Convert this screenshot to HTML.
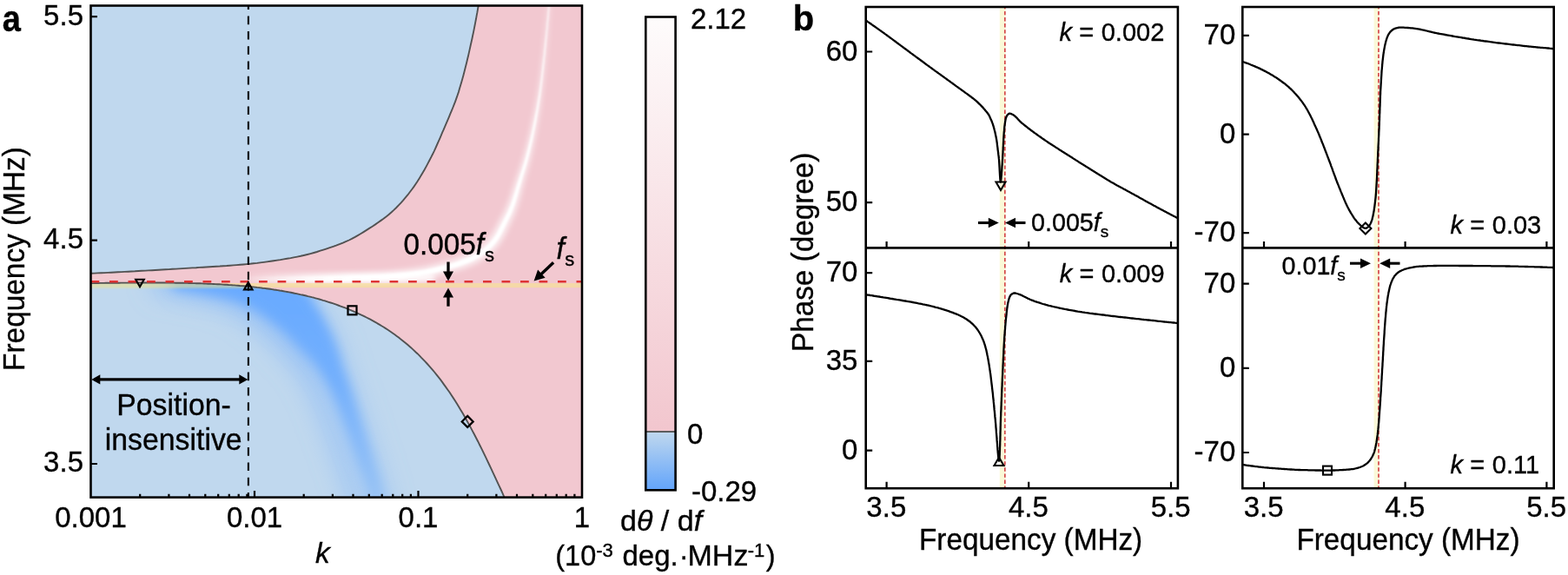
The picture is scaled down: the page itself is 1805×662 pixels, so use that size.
<!DOCTYPE html>
<html lang="en"><head><meta charset="utf-8"><title>Figure</title>
<style>html,body{margin:0;padding:0;background:#fff;}svg{display:block;}</style></head>
<body>
<svg width="1805" height="662" viewBox="0 0 1805 662" font-family='"Liberation Sans", Arial, Helvetica, sans-serif' fill="#000" stroke="#000" stroke-width="0.35">
<defs>
<clipPath id="cpA"><rect x="104.5" y="6.5" width="565.5" height="566.1"/></clipPath>
<clipPath id="cpLow"><path d="M104.5,326.1L106.7,326.1L108.8,326.0L111.0,326.0L113.2,326.0L115.4,325.9L117.5,325.9L119.7,325.9L121.9,325.8L124.1,325.8L126.2,325.8L128.4,325.8L130.6,325.7L132.8,325.7L134.9,325.7L137.1,325.7L139.3,325.6L141.5,325.6L143.6,325.6L145.8,325.6L148.0,325.6L150.2,325.6L152.3,325.5L154.5,325.5L156.7,325.5L158.8,325.5L161.0,325.5L163.2,325.5L165.4,325.5L167.5,325.5L169.7,325.5L171.9,325.5L174.1,325.5L176.2,325.5L178.4,325.5L180.6,325.5L182.8,325.5L184.9,325.5L187.1,325.5L189.3,325.5L191.5,325.6L193.6,325.6L195.8,325.6L198.0,325.6L200.2,325.6L202.3,325.7L204.5,325.7L206.7,325.7L208.9,325.8L211.0,325.8L213.2,325.9L215.4,325.9L217.5,326.0L219.7,326.0L221.9,326.1L224.1,326.1L226.2,326.2L228.4,326.3L230.6,326.3L232.8,326.4L234.9,326.5L237.1,326.6L239.3,326.7L241.5,326.8L243.6,326.9L245.8,327.0L248.0,327.1L250.2,327.2L252.3,327.3L254.5,327.4L256.7,327.6L258.9,327.7L261.0,327.8L263.2,328.0L265.4,328.1L267.5,328.3L269.7,328.4L271.9,328.6L274.1,328.8L276.2,329.0L278.4,329.1L280.6,329.3L282.8,329.5L284.9,329.7L287.1,330.0L289.3,330.2L291.5,330.4L293.6,330.6L295.8,330.9L298.0,331.1L300.2,331.4L302.3,331.7L304.5,331.9L306.7,332.2L308.9,332.5L311.0,332.8L313.2,333.1L315.4,333.5L317.5,333.8L319.7,334.1L321.9,334.5L324.1,334.8L326.2,335.2L328.4,335.6L330.6,336.0L332.8,336.4L334.9,336.8L337.1,337.2L339.3,337.7L341.5,338.1L343.6,338.6L345.8,339.1L348.0,339.5L350.2,340.0L352.3,340.5L354.5,341.1L356.7,341.6L358.9,342.2L361.0,342.7L363.2,343.3L365.4,343.9L367.6,344.5L369.7,345.1L371.9,345.8L374.1,346.4L376.2,347.1L378.4,347.8L380.6,348.5L382.8,349.2L384.9,349.9L387.1,350.7L389.3,351.5L391.5,352.3L393.6,353.1L395.8,353.9L398.0,354.7L400.2,355.6L402.3,356.5L404.5,357.4L406.7,358.3L408.9,359.3L411.0,360.3L413.2,361.3L415.4,362.3L417.6,363.3L419.7,364.4L421.9,365.5L424.1,366.6L426.2,367.7L428.4,368.9L430.6,370.1L432.8,371.3L434.9,372.6L437.1,373.9L439.3,375.2L441.5,376.5L443.6,377.9L445.8,379.3L448.0,380.8L450.2,382.3L452.3,383.8L454.5,385.3L456.7,386.9L458.9,388.5L461.0,390.2L463.2,391.9L465.4,393.7L467.6,395.5L469.7,397.3L471.9,399.2L474.1,401.1L476.2,403.1L478.4,405.2L480.6,407.2L482.8,409.4L484.9,411.6L487.1,413.8L489.3,416.1L491.5,418.5L493.6,420.9L495.8,423.4L498.0,425.9L500.2,428.5L502.3,431.2L504.5,433.9L506.7,436.7L508.9,439.6L511.0,442.6L513.2,445.6L515.4,448.7L517.6,451.8L519.7,455.1L521.9,458.4L524.1,461.8L526.3,465.2L528.4,468.8L530.6,472.4L532.8,476.1L534.9,479.8L537.1,483.7L539.3,487.6L541.5,491.6L543.6,495.6L545.8,499.8L548.0,504.0L550.2,508.2L552.3,512.5L554.5,516.9L556.7,521.4L558.9,525.9L561.0,530.4L563.2,535.0L565.4,539.6L567.6,544.3L569.7,548.9L571.9,553.6L574.1,558.3L576.3,563.0L578.4,567.7L580.6,572.6L104.5,572.6Z"/></clipPath>
<clipPath id="cpPink"><path d="M104.5,314.8L108.6,314.6L112.3,314.4L116.4,314.2L120.0,314.1L124.2,313.9L127.8,313.7L132.0,313.5L135.6,313.3L139.7,313.1L143.4,312.9L147.5,312.7L151.1,312.5L155.3,312.3L159.4,312.0L163.0,311.8L167.2,311.6L170.8,311.4L174.9,311.2L178.6,311.0L182.7,310.7L186.3,310.5L190.5,310.3L194.1,310.1L198.2,309.8L202.4,309.6L206.0,309.4L210.2,309.1L213.8,308.9L217.9,308.6L221.5,308.4L225.7,308.2L229.3,307.9L233.5,307.7L237.1,307.5L241.2,307.2L244.9,307.0L249.0,306.7L253.1,306.5L256.8,306.2L260.9,306.0L264.5,305.7L268.7,305.4L272.3,305.1L276.4,304.8L280.0,304.5L284.2,304.1L287.8,303.8L291.9,303.3L296.0,302.9L299.6,302.4L303.7,301.9L307.3,301.4L311.4,300.8L315.0,300.2L319.1,299.6L322.7,299.1L326.8,298.4L330.4,297.8L334.5,297.1L338.1,296.4L342.2,295.6L346.2,294.8L349.7,294.0L353.8,293.0L357.3,292.1L361.3,291.0L364.8,290.0L368.7,288.7L372.2,287.6L376.1,286.3L379.6,285.1L383.5,283.8L386.9,282.6L390.8,281.1L394.7,279.6L398.0,278.2L401.8,276.5L405.0,274.9L408.7,272.9L411.8,271.1L415.4,269.0L418.5,267.1L422.0,264.9L425.1,262.9L428.6,260.7L432.1,258.4L435.1,256.3L438.5,253.9L441.5,251.8L444.8,249.3L447.6,247.0L450.7,244.3L453.3,241.9L456.3,239.0L458.8,236.4L461.7,233.3L464.1,230.6L466.8,227.4L469.5,224.2L471.7,221.3L474.2,218.0L476.3,215.1L478.6,211.7L480.6,208.7L482.8,205.2L484.7,202.1L486.8,198.5L488.7,195.3L490.7,191.6L492.4,188.4L494.3,184.8L496.2,181.1L497.9,177.8L499.7,174.1L501.2,170.8L502.9,167.0L504.4,163.7L506.1,159.9L507.5,156.6L509.1,152.7L510.6,149.4L512.2,145.6L513.8,141.8L515.3,138.4L516.9,134.6L518.3,131.2L519.9,127.4L521.3,124.0L522.8,120.2L524.1,116.8L525.5,112.9L526.7,109.5L528.0,105.6L529.0,102.1L530.2,98.1L531.4,94.1L532.4,90.6L533.5,86.6L534.4,83.1L535.4,79.1L536.3,75.6L537.3,71.5L538.1,68.0L539.1,63.9L539.9,60.4L540.8,56.4L541.7,52.3L542.5,48.8L543.4,44.7L544.1,41.2L545.0,37.1L545.7,33.6L546.5,29.5L547.2,25.9L548.0,21.8L548.6,18.3L549.4,14.2L550.0,10.6L550.7,6.5L670.0,6.5L670.0,572.6L580.6,572.6L580.6,572.6L578.4,567.7L576.3,563.0L574.1,558.3L571.9,553.6L569.7,548.9L567.6,544.3L565.4,539.6L563.2,535.0L561.0,530.4L558.9,525.9L556.7,521.4L554.5,516.9L552.3,512.5L550.2,508.2L548.0,504.0L545.8,499.8L543.6,495.6L541.5,491.6L539.3,487.6L537.1,483.7L534.9,479.8L532.8,476.1L530.6,472.4L528.4,468.8L526.3,465.2L524.1,461.8L521.9,458.4L519.7,455.1L517.6,451.8L515.4,448.7L513.2,445.6L511.0,442.6L508.9,439.6L506.7,436.7L504.5,433.9L502.3,431.2L500.2,428.5L498.0,425.9L495.8,423.4L493.6,420.9L491.5,418.5L489.3,416.1L487.1,413.8L484.9,411.6L482.8,409.4L480.6,407.2L478.4,405.2L476.2,403.1L474.1,401.1L471.9,399.2L469.7,397.3L467.6,395.5L465.4,393.7L463.2,391.9L461.0,390.2L458.9,388.5L456.7,386.9L454.5,385.3L452.3,383.8L450.2,382.3L448.0,380.8L445.8,379.3L443.6,377.9L441.5,376.5L439.3,375.2L437.1,373.9L434.9,372.6L432.8,371.3L430.6,370.1L428.4,368.9L426.2,367.7L424.1,366.6L421.9,365.5L419.7,364.4L417.6,363.3L415.4,362.3L413.2,361.3L411.0,360.3L408.9,359.3L406.7,358.3L404.5,357.4L402.3,356.5L400.2,355.6L398.0,354.7L395.8,353.9L393.6,353.1L391.5,352.3L389.3,351.5L387.1,350.7L384.9,349.9L382.8,349.2L380.6,348.5L378.4,347.8L376.2,347.1L374.1,346.4L371.9,345.8L369.7,345.1L367.6,344.5L365.4,343.9L363.2,343.3L361.0,342.7L358.9,342.2L356.7,341.6L354.5,341.1L352.3,340.5L350.2,340.0L348.0,339.5L345.8,339.1L343.6,338.6L341.5,338.1L339.3,337.7L337.1,337.2L334.9,336.8L332.8,336.4L330.6,336.0L328.4,335.6L326.2,335.2L324.1,334.8L321.9,334.5L319.7,334.1L317.5,333.8L315.4,333.5L313.2,333.1L311.0,332.8L308.9,332.5L306.7,332.2L304.5,331.9L302.3,331.7L300.2,331.4L298.0,331.1L295.8,330.9L293.6,330.6L291.5,330.4L289.3,330.2L287.1,330.0L284.9,329.7L282.8,329.5L280.6,329.3L278.4,329.1L276.2,329.0L274.1,328.8L271.9,328.6L269.7,328.4L267.5,328.3L265.4,328.1L263.2,328.0L261.0,327.8L258.9,327.7L256.7,327.6L254.5,327.4L252.3,327.3L250.2,327.2L248.0,327.1L245.8,327.0L243.6,326.9L241.5,326.8L239.3,326.7L237.1,326.6L234.9,326.5L232.8,326.4L230.6,326.3L228.4,326.3L226.2,326.2L224.1,326.1L221.9,326.1L219.7,326.0L217.5,326.0L215.4,325.9L213.2,325.9L211.0,325.8L208.9,325.8L206.7,325.7L204.5,325.7L202.3,325.7L200.2,325.6L198.0,325.6L195.8,325.6L193.6,325.6L191.5,325.6L189.3,325.5L187.1,325.5L184.9,325.5L182.8,325.5L180.6,325.5L178.4,325.5L176.2,325.5L174.1,325.5L171.9,325.5L169.7,325.5L167.5,325.5L165.4,325.5L163.2,325.5L161.0,325.5L158.8,325.5L156.7,325.5L154.5,325.5L152.3,325.5L150.2,325.6L148.0,325.6L145.8,325.6L143.6,325.6L141.5,325.6L139.3,325.6L137.1,325.7L134.9,325.7L132.8,325.7L130.6,325.7L128.4,325.8L126.2,325.8L124.1,325.8L121.9,325.8L119.7,325.9L117.5,325.9L115.4,325.9L113.2,326.0L111.0,326.0L108.8,326.0L106.7,326.1L104.5,326.1Z"/></clipPath>
<filter id="b1" filterUnits="userSpaceOnUse" x="0" y="-100" width="800" height="900"><feGaussianBlur stdDeviation="0.8"/></filter>
<filter id="b3" filterUnits="userSpaceOnUse" x="0" y="-100" width="800" height="900"><feGaussianBlur stdDeviation="3"/></filter>
<filter id="b6" filterUnits="userSpaceOnUse" x="0" y="-100" width="800" height="900"><feGaussianBlur stdDeviation="6.5"/></filter>
<filter id="b14" filterUnits="userSpaceOnUse" x="0" y="-100" width="800" height="900"><feGaussianBlur stdDeviation="14"/></filter>
<linearGradient id="wfade" gradientUnits="userSpaceOnUse" x1="275" y1="0" x2="400" y2="0"><stop offset="0" stop-color="#fff" stop-opacity="0"/><stop offset="1" stop-color="#fff" stop-opacity="1"/></linearGradient>
<linearGradient id="cbTop" x1="0" y1="0" x2="0" y2="1"><stop offset="0" stop-color="#fefcfc"/><stop offset="1" stop-color="#f2c6ce"/></linearGradient>
<linearGradient id="cbBot" x1="0" y1="0" x2="0" y2="1"><stop offset="0" stop-color="#c0d8ee"/><stop offset="1" stop-color="#62a4fb"/></linearGradient>
<linearGradient id="bandFade" gradientUnits="userSpaceOnUse" x1="0" y1="330" x2="0" y2="572"><stop offset="0" stop-color="#69aaff"/><stop offset="0.45" stop-color="#72affd"/><stop offset="1" stop-color="#96c2f5"/></linearGradient>
</defs>
<rect width="1805" height="662" fill="#fff" stroke="none"/>
<g clip-path="url(#cpA)" stroke="none">
<rect x="104.5" y="6.5" width="565.5" height="566.1" fill="#f2c8d0"/>
<g clip-path="url(#cpPink)" fill="none" stroke="#fff">
<path d="M286.0,327.6L289.8,327.6L293.2,327.6L297.0,327.6L300.4,327.6L304.2,327.6L307.5,327.6L311.4,327.6L314.7,327.6L318.6,327.6L321.9,327.6L325.7,327.5L329.1,327.5L332.9,327.5L336.8,327.5L340.1,327.5L343.9,327.4L347.3,327.4L351.1,327.4L354.5,327.4L358.3,327.3L361.6,327.3L365.5,327.3L368.8,327.3L372.6,327.2L376.5,327.2L379.8,327.2L383.7,327.1L387.0,327.1L390.9,327.0L394.3,326.9L398.1,326.8L401.5,326.8L405.3,326.6L408.7,326.5L412.5,326.4L415.9,326.3L419.7,326.1L423.6,326.0L426.9,325.9L430.8,325.7L434.1,325.5L437.9,325.3L441.3,325.2L445.2,324.9L448.6,324.7L452.5,324.4L455.9,324.1L459.7,323.8L463.6,323.4L467.0,323.0L470.8,322.6L474.2,322.2L478.0,321.7L481.4,321.2L485.3,320.7L488.7,320.1L492.5,319.4L495.9,318.8L499.8,318.0L503.1,317.2L506.9,316.4L510.7,315.4L514.0,314.6L517.8,313.6L521.1,312.8L524.9,311.7L528.2,310.7L532.0,309.5L535.4,308.4L539.1,307.0L542.4,305.7L546.1,304.1L549.3,302.5L553.0,300.5L556.5,298.2L559.6,296.0L562.8,293.4L565.6,291.0L568.6,288.1L571.2,285.4L573.9,282.2L576.1,279.1L578.3,275.6L580.1,272.4L582.0,268.9L583.7,265.3L585.1,262.3L586.7,258.8L588.2,255.8L589.8,252.3L591.3,249.1L592.8,245.4L594.1,242.1L595.3,238.3L596.4,235.0L597.5,231.3L598.4,227.9L599.3,224.2L600.3,220.5L601.1,217.2L602.1,213.5L602.9,210.3L603.9,206.7L604.8,203.4L605.9,199.8L606.8,196.5L607.9,192.8L608.8,189.5L609.7,185.8L610.6,182.5L611.4,178.7L612.3,175.0L613.0,171.7L613.8,167.9L614.5,164.6L615.3,160.8L615.9,157.5L616.6,153.7L617.2,150.4L617.9,146.6L618.4,143.3L619.1,139.5L619.7,135.7L620.2,132.4L620.8,128.6L621.3,125.3L621.9,121.5L622.3,118.2L622.8,114.3L623.2,111.0L623.7,107.2L624.1,103.9L624.5,100.0L624.9,96.7L625.3,92.9L625.7,89.1L626.1,85.7L626.5,81.9L626.8,78.6L627.2,74.8L627.5,71.4L627.9,67.6L628.2,64.3L628.5,60.5L628.8,57.1L629.2,53.3L629.5,49.5L629.8,46.2L630.2,42.4L630.5,39.0L630.8,35.2L631.1,31.9L631.4,28.1L631.6,24.7L631.9,20.9L632.2,17.6L632.5,13.7L632.7,10.4L633.0,6.6L631.0,6.4L630.6,10.2L630.3,13.6L630.0,17.4L629.6,20.7L629.3,24.5L628.9,27.8L628.5,31.6L628.2,35.0L627.8,38.8L627.4,42.1L627.0,45.9L626.6,49.2L626.2,53.0L625.8,56.8L625.4,60.2L625.0,64.0L624.6,67.3L624.1,71.1L623.7,74.4L623.3,78.2L622.9,81.5L622.4,85.3L622.0,88.6L621.5,92.4L621.0,96.2L620.5,99.5L619.9,103.3L619.4,106.6L618.8,110.4L618.2,113.6L617.5,117.4L616.9,120.7L616.2,124.4L615.5,127.7L614.7,131.4L614.0,134.7L613.2,138.4L612.4,142.1L611.7,145.4L610.9,149.1L610.1,152.4L609.2,156.1L608.4,159.3L607.5,163.0L606.7,166.2L605.7,169.9L604.8,173.1L603.8,176.8L602.8,180.4L601.8,183.6L600.7,187.2L599.7,190.3L598.5,193.9L597.4,197.1L596.1,200.7L595.0,203.9L593.8,207.5L592.7,210.7L591.5,214.4L590.4,217.6L589.2,221.3L588.0,224.9L587.0,228.0L585.7,231.5L584.6,234.5L583.2,237.8L581.9,240.7L580.3,244.0L578.8,246.8L577.0,250.1L575.4,253.1L573.5,256.5L572.0,259.5L570.3,262.9L568.5,266.1L567.0,268.6L565.1,271.5L563.4,273.8L561.1,276.4L559.0,278.5L556.4,280.9L554.2,282.8L551.4,285.0L548.9,286.7L545.9,288.5L542.9,290.1L540.2,291.4L537.0,292.8L534.1,294.0L530.6,295.4L527.6,296.5L524.1,297.7L521.0,298.7L517.4,299.8L514.2,300.7L510.6,301.7L507.4,302.6L503.8,303.5L500.1,304.4L496.9,305.2L493.3,306.0L490.1,306.7L486.4,307.4L483.2,308.0L479.5,308.6L476.3,309.0L472.6,309.6L469.3,310.0L465.5,310.4L462.2,310.8L458.5,311.2L454.7,311.6L451.4,311.9L447.7,312.2L444.4,312.5L440.6,312.7L437.3,312.9L433.5,313.1L430.2,313.3L426.4,313.4L423.0,313.6L419.2,313.8L415.4,313.9L412.1,314.0L408.3,314.2L404.9,314.3L401.1,314.4L397.8,314.5L394.0,314.6L390.6,314.7L386.8,314.7L383.5,314.8L379.7,314.8L376.4,314.9L372.5,314.9L368.7,314.9L365.4,315.0L361.5,315.0L358.2,315.0L354.4,315.1L351.0,315.1L347.2,315.1L343.8,315.1L340.0,315.2L336.7,315.2L332.9,315.2L329.0,315.2L325.7,315.3L321.9,315.3L318.5,315.3L314.7,315.3L311.3,315.3L307.5,315.3L304.2,315.3L300.3,315.3L297.0,315.4L293.2,315.4L289.8,315.4L286.0,315.4Z" fill="url(#wfade)" stroke="none" fill-opacity="0.7" filter="url(#b3)"/>
<path d="M270,320.5 L500,319.5" stroke="url(#wfade)" stroke-width="8" stroke-opacity="0.9" filter="url(#b3)"/>
<path d="M286.0,324.4L289.8,324.4L293.2,324.4L297.0,324.4L300.4,324.4L304.2,324.4L307.5,324.4L311.4,324.4L314.7,324.3L318.5,324.3L321.9,324.3L325.7,324.3L329.1,324.3L332.9,324.3L336.7,324.2L340.1,324.2L343.9,324.2L347.3,324.2L351.1,324.1L354.4,324.1L358.3,324.1L361.6,324.1L365.4,324.0L368.8,324.0L372.6,324.0L376.4,323.9L379.8,323.9L383.6,323.9L387.0,323.8L390.8,323.7L394.2,323.7L398.0,323.6L401.4,323.5L405.2,323.4L408.6,323.3L412.4,323.1L415.8,323.0L419.6,322.8L423.4,322.7L426.8,322.5L430.6,322.4L433.9,322.2L437.8,322.0L441.1,321.8L445.0,321.6L448.3,321.4L452.2,321.1L455.5,320.8L459.4,320.4L463.2,320.0L466.6,319.6L470.4,319.2L473.7,318.7L477.5,318.2L480.9,317.8L484.7,317.2L488.0,316.6L491.9,315.9L495.2,315.2L499.0,314.4L502.3,313.7L506.0,312.8L509.8,311.8L513.0,311.0L516.8,310.0L520.0,309.1L523.8,308.0L527.0,306.9L530.8,305.7L534.0,304.6L537.7,303.2L540.8,301.9L544.4,300.4L547.5,298.8L550.9,296.9L554.3,294.8L557.1,292.7L560.2,290.3L562.9,288.0L565.7,285.3L568.1,282.7L570.7,279.6L572.8,276.8L574.9,273.5L576.6,270.5L578.4,267.0L580.1,263.5L581.6,260.5L583.2,257.1L584.7,254.0L586.4,250.6L587.9,247.5L589.4,243.9L590.7,240.8L592.0,237.1L593.1,233.9L594.2,230.2L595.2,227.0L596.2,223.3L597.2,219.6L598.1,216.3L599.2,212.7L600.1,209.5L601.2,205.8L602.1,202.6L603.2,198.9L604.2,195.7L605.3,192.0L606.3,188.8L607.3,185.1L608.2,181.8L609.1,178.1L610.0,174.4L610.8,171.1L611.6,167.4L612.4,164.1L613.2,160.4L613.9,157.1L614.6,153.3L615.3,150.0L616.0,146.3L616.7,143.0L617.4,139.2L618.0,135.4L618.6,132.1L619.3,128.3L619.8,125.0L620.4,121.2L620.9,117.9L621.5,114.1L622.0,110.8L622.5,107.0L622.9,103.7L623.4,99.9L623.8,96.6L624.3,92.8L624.7,89.0L625.1,85.6L625.5,81.8L625.9,78.5L626.3,74.7L626.6,71.4L627.0,67.5L627.4,64.2L627.8,60.4L628.1,57.1L628.5,53.3L628.8,49.5L629.2,46.1L629.5,42.3L629.8,39.0L630.2,35.2L630.5,31.8L630.8,28.0L631.1,24.7L631.5,20.9L631.8,17.5L632.1,13.7L632.3,10.4L632.6,6.6L631.4,6.4L631.0,10.3L630.7,13.6L630.4,17.4L630.1,20.7L629.7,24.6L629.4,27.9L629.1,31.7L628.8,35.0L628.4,38.8L628.0,42.2L627.7,46.0L627.3,49.3L626.9,53.1L626.5,56.9L626.2,60.2L625.8,64.0L625.4,67.4L625.0,71.2L624.6,74.5L624.2,78.3L623.8,81.6L623.4,85.4L623.0,88.8L622.5,92.6L622.0,96.4L621.6,99.7L621.1,103.5L620.6,106.8L620.0,110.5L619.5,113.8L618.9,117.6L618.3,120.9L617.7,124.7L617.1,128.0L616.3,131.7L615.7,135.0L615.0,138.7L614.2,142.5L613.5,145.8L612.8,149.5L612.1,152.8L611.2,156.5L610.5,159.8L609.6,163.5L608.8,166.7L607.9,170.4L607.1,173.7L606.1,177.4L605.2,181.0L604.3,184.2L603.2,187.9L602.2,191.1L601.1,194.7L600.0,197.9L598.8,201.6L597.8,204.7L596.6,208.4L595.6,211.6L594.5,215.3L593.5,218.5L592.4,222.2L591.2,225.8L590.2,229.0L589.0,232.6L587.9,235.7L586.5,239.1L585.3,242.1L583.7,245.5L582.2,248.5L580.4,251.9L578.9,254.9L577.1,258.3L575.6,261.3L573.8,264.7L572.1,268.0L570.4,270.8L568.4,273.8L566.5,276.3L564.1,279.1L561.9,281.4L559.2,283.9L556.7,286.0L553.8,288.2L551.1,290.1L548.0,292.0L544.8,293.8L542.0,295.1L538.6,296.6L535.6,297.8L532.0,299.1L528.9,300.2L525.3,301.4L522.1,302.4L518.4,303.5L515.2,304.4L511.5,305.4L508.3,306.2L504.7,307.1L501.0,308.0L497.7,308.8L494.0,309.6L490.8,310.2L487.0,310.9L483.8,311.5L480.0,312.0L476.8,312.5L473.0,313.0L469.7,313.4L465.9,313.9L462.6,314.2L458.8,314.6L455.0,315.0L451.7,315.3L447.9,315.6L444.6,315.8L440.8,316.0L437.5,316.2L433.7,316.4L430.3,316.6L426.5,316.7L423.2,316.9L419.3,317.1L415.5,317.2L412.2,317.3L408.4,317.5L405.0,317.6L401.2,317.7L397.9,317.8L394.0,317.9L390.7,317.9L386.9,318.0L383.6,318.1L379.7,318.1L376.4,318.1L372.6,318.2L368.7,318.2L365.4,318.2L361.6,318.3L358.2,318.3L354.4,318.3L351.0,318.3L347.2,318.4L343.9,318.4L340.0,318.4L336.7,318.4L332.9,318.5L329.0,318.5L325.7,318.5L321.9,318.5L318.5,318.5L314.7,318.5L311.4,318.6L307.5,318.6L304.2,318.6L300.3,318.6L297.0,318.6L293.2,318.6L289.8,318.6L286.0,318.6Z" fill="url(#wfade)" stroke="none" filter="url(#b1)"/>
</g>
<path d="M104.5,314.8L108.6,314.6L112.3,314.4L116.4,314.2L120.0,314.1L124.2,313.9L127.8,313.7L132.0,313.5L135.6,313.3L139.7,313.1L143.4,312.9L147.5,312.7L151.1,312.5L155.3,312.3L159.4,312.0L163.0,311.8L167.2,311.6L170.8,311.4L174.9,311.2L178.6,311.0L182.7,310.7L186.3,310.5L190.5,310.3L194.1,310.1L198.2,309.8L202.4,309.6L206.0,309.4L210.2,309.1L213.8,308.9L217.9,308.6L221.5,308.4L225.7,308.2L229.3,307.9L233.5,307.7L237.1,307.5L241.2,307.2L244.9,307.0L249.0,306.7L253.1,306.5L256.8,306.2L260.9,306.0L264.5,305.7L268.7,305.4L272.3,305.1L276.4,304.8L280.0,304.5L284.2,304.1L287.8,303.8L291.9,303.3L296.0,302.9L299.6,302.4L303.7,301.9L307.3,301.4L311.4,300.8L315.0,300.2L319.1,299.6L322.7,299.1L326.8,298.4L330.4,297.8L334.5,297.1L338.1,296.4L342.2,295.6L346.2,294.8L349.7,294.0L353.8,293.0L357.3,292.1L361.3,291.0L364.8,290.0L368.7,288.7L372.2,287.6L376.1,286.3L379.6,285.1L383.5,283.8L386.9,282.6L390.8,281.1L394.7,279.6L398.0,278.2L401.8,276.5L405.0,274.9L408.7,272.9L411.8,271.1L415.4,269.0L418.5,267.1L422.0,264.9L425.1,262.9L428.6,260.7L432.1,258.4L435.1,256.3L438.5,253.9L441.5,251.8L444.8,249.3L447.6,247.0L450.7,244.3L453.3,241.9L456.3,239.0L458.8,236.4L461.7,233.3L464.1,230.6L466.8,227.4L469.5,224.2L471.7,221.3L474.2,218.0L476.3,215.1L478.6,211.7L480.6,208.7L482.8,205.2L484.7,202.1L486.8,198.5L488.7,195.3L490.7,191.6L492.4,188.4L494.3,184.8L496.2,181.1L497.9,177.8L499.7,174.1L501.2,170.8L502.9,167.0L504.4,163.7L506.1,159.9L507.5,156.6L509.1,152.7L510.6,149.4L512.2,145.6L513.8,141.8L515.3,138.4L516.9,134.6L518.3,131.2L519.9,127.4L521.3,124.0L522.8,120.2L524.1,116.8L525.5,112.9L526.7,109.5L528.0,105.6L529.0,102.1L530.2,98.1L531.4,94.1L532.4,90.6L533.5,86.6L534.4,83.1L535.4,79.1L536.3,75.6L537.3,71.5L538.1,68.0L539.1,63.9L539.9,60.4L540.8,56.4L541.7,52.3L542.5,48.8L543.4,44.7L544.1,41.2L545.0,37.1L545.7,33.6L546.5,29.5L547.2,25.9L548.0,21.8L548.6,18.3L549.4,14.2L550.0,10.6L550.7,6.5L104.5,6.5Z" fill="#c0d8ee"/>
<path d="M104.5,326.1L106.7,326.1L108.8,326.0L111.0,326.0L113.2,326.0L115.4,325.9L117.5,325.9L119.7,325.9L121.9,325.8L124.1,325.8L126.2,325.8L128.4,325.8L130.6,325.7L132.8,325.7L134.9,325.7L137.1,325.7L139.3,325.6L141.5,325.6L143.6,325.6L145.8,325.6L148.0,325.6L150.2,325.6L152.3,325.5L154.5,325.5L156.7,325.5L158.8,325.5L161.0,325.5L163.2,325.5L165.4,325.5L167.5,325.5L169.7,325.5L171.9,325.5L174.1,325.5L176.2,325.5L178.4,325.5L180.6,325.5L182.8,325.5L184.9,325.5L187.1,325.5L189.3,325.5L191.5,325.6L193.6,325.6L195.8,325.6L198.0,325.6L200.2,325.6L202.3,325.7L204.5,325.7L206.7,325.7L208.9,325.8L211.0,325.8L213.2,325.9L215.4,325.9L217.5,326.0L219.7,326.0L221.9,326.1L224.1,326.1L226.2,326.2L228.4,326.3L230.6,326.3L232.8,326.4L234.9,326.5L237.1,326.6L239.3,326.7L241.5,326.8L243.6,326.9L245.8,327.0L248.0,327.1L250.2,327.2L252.3,327.3L254.5,327.4L256.7,327.6L258.9,327.7L261.0,327.8L263.2,328.0L265.4,328.1L267.5,328.3L269.7,328.4L271.9,328.6L274.1,328.8L276.2,329.0L278.4,329.1L280.6,329.3L282.8,329.5L284.9,329.7L287.1,330.0L289.3,330.2L291.5,330.4L293.6,330.6L295.8,330.9L298.0,331.1L300.2,331.4L302.3,331.7L304.5,331.9L306.7,332.2L308.9,332.5L311.0,332.8L313.2,333.1L315.4,333.5L317.5,333.8L319.7,334.1L321.9,334.5L324.1,334.8L326.2,335.2L328.4,335.6L330.6,336.0L332.8,336.4L334.9,336.8L337.1,337.2L339.3,337.7L341.5,338.1L343.6,338.6L345.8,339.1L348.0,339.5L350.2,340.0L352.3,340.5L354.5,341.1L356.7,341.6L358.9,342.2L361.0,342.7L363.2,343.3L365.4,343.9L367.6,344.5L369.7,345.1L371.9,345.8L374.1,346.4L376.2,347.1L378.4,347.8L380.6,348.5L382.8,349.2L384.9,349.9L387.1,350.7L389.3,351.5L391.5,352.3L393.6,353.1L395.8,353.9L398.0,354.7L400.2,355.6L402.3,356.5L404.5,357.4L406.7,358.3L408.9,359.3L411.0,360.3L413.2,361.3L415.4,362.3L417.6,363.3L419.7,364.4L421.9,365.5L424.1,366.6L426.2,367.7L428.4,368.9L430.6,370.1L432.8,371.3L434.9,372.6L437.1,373.9L439.3,375.2L441.5,376.5L443.6,377.9L445.8,379.3L448.0,380.8L450.2,382.3L452.3,383.8L454.5,385.3L456.7,386.9L458.9,388.5L461.0,390.2L463.2,391.9L465.4,393.7L467.6,395.5L469.7,397.3L471.9,399.2L474.1,401.1L476.2,403.1L478.4,405.2L480.6,407.2L482.8,409.4L484.9,411.6L487.1,413.8L489.3,416.1L491.5,418.5L493.6,420.9L495.8,423.4L498.0,425.9L500.2,428.5L502.3,431.2L504.5,433.9L506.7,436.7L508.9,439.6L511.0,442.6L513.2,445.6L515.4,448.7L517.6,451.8L519.7,455.1L521.9,458.4L524.1,461.8L526.3,465.2L528.4,468.8L530.6,472.4L532.8,476.1L534.9,479.8L537.1,483.7L539.3,487.6L541.5,491.6L543.6,495.6L545.8,499.8L548.0,504.0L550.2,508.2L552.3,512.5L554.5,516.9L556.7,521.4L558.9,525.9L561.0,530.4L563.2,535.0L565.4,539.6L567.6,544.3L569.7,548.9L571.9,553.6L574.1,558.3L576.3,563.0L578.4,567.7L580.6,572.6L104.5,572.6Z" fill="#c0d8ee"/>
<g clip-path="url(#cpLow)">
<path d="M195,300L200.0,333.0L205.0,333.5L209.9,334.1L214.9,334.7L219.8,335.5L224.8,336.2L229.7,337.1L234.6,338.0L239.4,338.9L244.3,339.9L249.2,340.9L254.2,342.1L259.1,343.3L263.9,344.6L268.7,346.0L273.4,347.6L278.0,349.2L282.5,351.0L286.9,353.1L291.3,355.5L295.6,358.0L299.8,360.8L304.0,363.7L308.1,366.7L312.1,369.8L316.0,373.0L319.9,376.1L323.7,379.3L327.3,382.6L330.9,386.1L334.4,389.6L337.9,393.3L341.3,397.0L344.7,400.6L348.1,404.2L351.6,407.8L355.1,411.5L358.5,415.1L361.7,418.9L364.6,422.9L367.4,427.0L370.0,431.2L372.5,435.5L375.0,439.9L377.3,444.4L379.5,448.9L381.6,453.4L383.6,457.9L385.5,462.5L387.4,467.1L389.2,471.8L391.0,476.4L392.7,481.1L394.4,485.8L396.2,490.5L397.9,495.2L399.6,499.8L401.3,504.5L402.9,509.3L404.5,514.0L406.1,518.7L407.8,523.4L409.4,528.1L411.0,532.8L412.7,537.5L414.4,542.2L416.2,546.9L417.9,551.6L419.6,556.3L421.1,561.1L422.5,565.8L423.7,570.6L424.7,575.5L425.7,580.3L426.6,585.2L427.5,590.1L428.3,595.1L429.0,600.0L429.5,605.0L430.0,610.0L449.0,610.0L448.6,606.2L448.1,602.5L447.7,598.8L447.1,595.0L446.5,591.3L445.9,587.6L445.3,583.9L444.6,580.2L443.9,576.5L443.2,572.8L442.4,569.2L441.5,565.5L440.6,561.9L439.6,558.2L438.6,554.6L437.5,551.0L436.4,547.4L435.3,543.8L434.2,540.2L433.0,536.6L431.9,533.0L430.8,529.4L429.7,525.8L428.6,522.2L427.4,518.7L426.3,515.1L425.1,511.5L423.9,507.9L422.7,504.4L421.5,500.8L420.4,497.2L419.2,493.6L418.0,490.1L416.9,486.5L415.7,482.9L414.6,479.3L413.4,475.7L412.3,472.1L411.1,468.6L410.0,465.0L408.8,461.4L407.6,457.8L406.4,454.3L405.2,450.7L404.0,447.1L402.8,443.6L401.5,440.1L400.2,436.5L398.9,433.0L397.6,429.5L396.3,425.9L395.1,422.4L393.9,418.8L392.8,415.2L391.8,411.6L390.7,407.9L389.6,404.4L388.4,400.8L387.1,397.3L385.7,393.8L384.3,390.3L382.8,386.9L381.2,383.5L379.5,380.1L377.8,376.7L376.1,373.3L374.3,370.0L372.5,366.7L370.7,363.4L368.8,360.2L366.9,357.0L365.0,353.8L362.9,350.6L360.9,347.4L358.8,344.3L356.7,341.2L354.5,338.1L352.3,335.0L350.0,332.0L345,300Z" transform="translate(-22,6)" fill="#7fb5fa" fill-opacity="0.55" filter="url(#b14)"/>
<path d="M195,300L200.0,333.0L205.0,333.5L209.9,334.1L214.9,334.7L219.8,335.5L224.8,336.2L229.7,337.1L234.6,338.0L239.4,338.9L244.3,339.9L249.2,340.9L254.2,342.1L259.1,343.3L263.9,344.6L268.7,346.0L273.4,347.6L278.0,349.2L282.5,351.0L286.9,353.1L291.3,355.5L295.6,358.0L299.8,360.8L304.0,363.7L308.1,366.7L312.1,369.8L316.0,373.0L319.9,376.1L323.7,379.3L327.3,382.6L330.9,386.1L334.4,389.6L337.9,393.3L341.3,397.0L344.7,400.6L348.1,404.2L351.6,407.8L355.1,411.5L358.5,415.1L361.7,418.9L364.6,422.9L367.4,427.0L370.0,431.2L372.5,435.5L375.0,439.9L377.3,444.4L379.5,448.9L381.6,453.4L383.6,457.9L385.5,462.5L387.4,467.1L389.2,471.8L391.0,476.4L392.7,481.1L394.4,485.8L396.2,490.5L397.9,495.2L399.6,499.8L401.3,504.5L402.9,509.3L404.5,514.0L406.1,518.7L407.8,523.4L409.4,528.1L411.0,532.8L412.7,537.5L414.4,542.2L416.2,546.9L417.9,551.6L419.6,556.3L421.1,561.1L422.5,565.8L423.7,570.6L424.7,575.5L425.7,580.3L426.6,585.2L427.5,590.1L428.3,595.1L429.0,600.0L429.5,605.0L430.0,610.0L449.0,610.0L448.6,606.2L448.1,602.5L447.7,598.8L447.1,595.0L446.5,591.3L445.9,587.6L445.3,583.9L444.6,580.2L443.9,576.5L443.2,572.8L442.4,569.2L441.5,565.5L440.6,561.9L439.6,558.2L438.6,554.6L437.5,551.0L436.4,547.4L435.3,543.8L434.2,540.2L433.0,536.6L431.9,533.0L430.8,529.4L429.7,525.8L428.6,522.2L427.4,518.7L426.3,515.1L425.1,511.5L423.9,507.9L422.7,504.4L421.5,500.8L420.4,497.2L419.2,493.6L418.0,490.1L416.9,486.5L415.7,482.9L414.6,479.3L413.4,475.7L412.3,472.1L411.1,468.6L410.0,465.0L408.8,461.4L407.6,457.8L406.4,454.3L405.2,450.7L404.0,447.1L402.8,443.6L401.5,440.1L400.2,436.5L398.9,433.0L397.6,429.5L396.3,425.9L395.1,422.4L393.9,418.8L392.8,415.2L391.8,411.6L390.7,407.9L389.6,404.4L388.4,400.8L387.1,397.3L385.7,393.8L384.3,390.3L382.8,386.9L381.2,383.5L379.5,380.1L377.8,376.7L376.1,373.3L374.3,370.0L372.5,366.7L370.7,363.4L368.8,360.2L366.9,357.0L365.0,353.8L362.9,350.6L360.9,347.4L358.8,344.3L356.7,341.2L354.5,338.1L352.3,335.0L350.0,332.0L345,300Z" transform="translate(6,0)" fill="#7fb5fa" fill-opacity="0.4" filter="url(#b14)"/>
<path d="M195,300L200.0,333.0L205.0,333.5L209.9,334.1L214.9,334.7L219.8,335.5L224.8,336.2L229.7,337.1L234.6,338.0L239.4,338.9L244.3,339.9L249.2,340.9L254.2,342.1L259.1,343.3L263.9,344.6L268.7,346.0L273.4,347.6L278.0,349.2L282.5,351.0L286.9,353.1L291.3,355.5L295.6,358.0L299.8,360.8L304.0,363.7L308.1,366.7L312.1,369.8L316.0,373.0L319.9,376.1L323.7,379.3L327.3,382.6L330.9,386.1L334.4,389.6L337.9,393.3L341.3,397.0L344.7,400.6L348.1,404.2L351.6,407.8L355.1,411.5L358.5,415.1L361.7,418.9L364.6,422.9L367.4,427.0L370.0,431.2L372.5,435.5L375.0,439.9L377.3,444.4L379.5,448.9L381.6,453.4L383.6,457.9L385.5,462.5L387.4,467.1L389.2,471.8L391.0,476.4L392.7,481.1L394.4,485.8L396.2,490.5L397.9,495.2L399.6,499.8L401.3,504.5L402.9,509.3L404.5,514.0L406.1,518.7L407.8,523.4L409.4,528.1L411.0,532.8L412.7,537.5L414.4,542.2L416.2,546.9L417.9,551.6L419.6,556.3L421.1,561.1L422.5,565.8L423.7,570.6L424.7,575.5L425.7,580.3L426.6,585.2L427.5,590.1L428.3,595.1L429.0,600.0L429.5,605.0L430.0,610.0L449.0,610.0L448.6,606.2L448.1,602.5L447.7,598.8L447.1,595.0L446.5,591.3L445.9,587.6L445.3,583.9L444.6,580.2L443.9,576.5L443.2,572.8L442.4,569.2L441.5,565.5L440.6,561.9L439.6,558.2L438.6,554.6L437.5,551.0L436.4,547.4L435.3,543.8L434.2,540.2L433.0,536.6L431.9,533.0L430.8,529.4L429.7,525.8L428.6,522.2L427.4,518.7L426.3,515.1L425.1,511.5L423.9,507.9L422.7,504.4L421.5,500.8L420.4,497.2L419.2,493.6L418.0,490.1L416.9,486.5L415.7,482.9L414.6,479.3L413.4,475.7L412.3,472.1L411.1,468.6L410.0,465.0L408.8,461.4L407.6,457.8L406.4,454.3L405.2,450.7L404.0,447.1L402.8,443.6L401.5,440.1L400.2,436.5L398.9,433.0L397.6,429.5L396.3,425.9L395.1,422.4L393.9,418.8L392.8,415.2L391.8,411.6L390.7,407.9L389.6,404.4L388.4,400.8L387.1,397.3L385.7,393.8L384.3,390.3L382.8,386.9L381.2,383.5L379.5,380.1L377.8,376.7L376.1,373.3L374.3,370.0L372.5,366.7L370.7,363.4L368.8,360.2L366.9,357.0L365.0,353.8L362.9,350.6L360.9,347.4L358.8,344.3L356.7,341.2L354.5,338.1L352.3,335.0L350.0,332.0L345,300Z" fill="url(#bandFade)" filter="url(#b6)"/>
</g>
<rect x="104.5" y="326" width="565.5" height="5.1" fill="#f6e38e" fill-opacity="0.6" clip-path="url(#cpPink)"/>
<rect x="104.5" y="325" width="565.5" height="6.6" fill="#f3e37e" fill-opacity="0.5" clip-path="url(#cpLow)" filter="url(#b1)"/>
<path d="M104.5,314.8L108.6,314.6L112.3,314.4L116.4,314.2L120.0,314.1L124.2,313.9L127.8,313.7L132.0,313.5L135.6,313.3L139.7,313.1L143.4,312.9L147.5,312.7L151.1,312.5L155.3,312.3L159.4,312.0L163.0,311.8L167.2,311.6L170.8,311.4L174.9,311.2L178.6,311.0L182.7,310.7L186.3,310.5L190.5,310.3L194.1,310.1L198.2,309.8L202.4,309.6L206.0,309.4L210.2,309.1L213.8,308.9L217.9,308.6L221.5,308.4L225.7,308.2L229.3,307.9L233.5,307.7L237.1,307.5L241.2,307.2L244.9,307.0L249.0,306.7L253.1,306.5L256.8,306.2L260.9,306.0L264.5,305.7L268.7,305.4L272.3,305.1L276.4,304.8L280.0,304.5L284.2,304.1L287.8,303.8L291.9,303.3L296.0,302.9L299.6,302.4L303.7,301.9L307.3,301.4L311.4,300.8L315.0,300.2L319.1,299.6L322.7,299.1L326.8,298.4L330.4,297.8L334.5,297.1L338.1,296.4L342.2,295.6L346.2,294.8L349.7,294.0L353.8,293.0L357.3,292.1L361.3,291.0L364.8,290.0L368.7,288.7L372.2,287.6L376.1,286.3L379.6,285.1L383.5,283.8L386.9,282.6L390.8,281.1L394.7,279.6L398.0,278.2L401.8,276.5L405.0,274.9L408.7,272.9L411.8,271.1L415.4,269.0L418.5,267.1L422.0,264.9L425.1,262.9L428.6,260.7L432.1,258.4L435.1,256.3L438.5,253.9L441.5,251.8L444.8,249.3L447.6,247.0L450.7,244.3L453.3,241.9L456.3,239.0L458.8,236.4L461.7,233.3L464.1,230.6L466.8,227.4L469.5,224.2L471.7,221.3L474.2,218.0L476.3,215.1L478.6,211.7L480.6,208.7L482.8,205.2L484.7,202.1L486.8,198.5L488.7,195.3L490.7,191.6L492.4,188.4L494.3,184.8L496.2,181.1L497.9,177.8L499.7,174.1L501.2,170.8L502.9,167.0L504.4,163.7L506.1,159.9L507.5,156.6L509.1,152.7L510.6,149.4L512.2,145.6L513.8,141.8L515.3,138.4L516.9,134.6L518.3,131.2L519.9,127.4L521.3,124.0L522.8,120.2L524.1,116.8L525.5,112.9L526.7,109.5L528.0,105.6L529.0,102.1L530.2,98.1L531.4,94.1L532.4,90.6L533.5,86.6L534.4,83.1L535.4,79.1L536.3,75.6L537.3,71.5L538.1,68.0L539.1,63.9L539.9,60.4L540.8,56.4L541.7,52.3L542.5,48.8L543.4,44.7L544.1,41.2L545.0,37.1L545.7,33.6L546.5,29.5L547.2,25.9L548.0,21.8L548.6,18.3L549.4,14.2L550.0,10.6L550.7,6.5" fill="none" stroke="#525252" stroke-width="1.9"/>
<path d="M104.5,326.1L106.7,326.1L108.8,326.0L111.0,326.0L113.2,326.0L115.4,325.9L117.5,325.9L119.7,325.9L121.9,325.8L124.1,325.8L126.2,325.8L128.4,325.8L130.6,325.7L132.8,325.7L134.9,325.7L137.1,325.7L139.3,325.6L141.5,325.6L143.6,325.6L145.8,325.6L148.0,325.6L150.2,325.6L152.3,325.5L154.5,325.5L156.7,325.5L158.8,325.5L161.0,325.5L163.2,325.5L165.4,325.5L167.5,325.5L169.7,325.5L171.9,325.5L174.1,325.5L176.2,325.5L178.4,325.5L180.6,325.5L182.8,325.5L184.9,325.5L187.1,325.5L189.3,325.5L191.5,325.6L193.6,325.6L195.8,325.6L198.0,325.6L200.2,325.6L202.3,325.7L204.5,325.7L206.7,325.7L208.9,325.8L211.0,325.8L213.2,325.9L215.4,325.9L217.5,326.0L219.7,326.0L221.9,326.1L224.1,326.1L226.2,326.2L228.4,326.3L230.6,326.3L232.8,326.4L234.9,326.5L237.1,326.6L239.3,326.7L241.5,326.8L243.6,326.9L245.8,327.0L248.0,327.1L250.2,327.2L252.3,327.3L254.5,327.4L256.7,327.6L258.9,327.7L261.0,327.8L263.2,328.0L265.4,328.1L267.5,328.3L269.7,328.4L271.9,328.6L274.1,328.8L276.2,329.0L278.4,329.1L280.6,329.3L282.8,329.5L284.9,329.7L287.1,330.0L289.3,330.2L291.5,330.4L293.6,330.6L295.8,330.9L298.0,331.1L300.2,331.4L302.3,331.7L304.5,331.9L306.7,332.2L308.9,332.5L311.0,332.8L313.2,333.1L315.4,333.5L317.5,333.8L319.7,334.1L321.9,334.5L324.1,334.8L326.2,335.2L328.4,335.6L330.6,336.0L332.8,336.4L334.9,336.8L337.1,337.2L339.3,337.7L341.5,338.1L343.6,338.6L345.8,339.1L348.0,339.5L350.2,340.0L352.3,340.5L354.5,341.1L356.7,341.6L358.9,342.2L361.0,342.7L363.2,343.3L365.4,343.9L367.6,344.5L369.7,345.1L371.9,345.8L374.1,346.4L376.2,347.1L378.4,347.8L380.6,348.5L382.8,349.2L384.9,349.9L387.1,350.7L389.3,351.5L391.5,352.3L393.6,353.1L395.8,353.9L398.0,354.7L400.2,355.6L402.3,356.5L404.5,357.4L406.7,358.3L408.9,359.3L411.0,360.3L413.2,361.3L415.4,362.3L417.6,363.3L419.7,364.4L421.9,365.5L424.1,366.6L426.2,367.7L428.4,368.9L430.6,370.1L432.8,371.3L434.9,372.6L437.1,373.9L439.3,375.2L441.5,376.5L443.6,377.9L445.8,379.3L448.0,380.8L450.2,382.3L452.3,383.8L454.5,385.3L456.7,386.9L458.9,388.5L461.0,390.2L463.2,391.9L465.4,393.7L467.6,395.5L469.7,397.3L471.9,399.2L474.1,401.1L476.2,403.1L478.4,405.2L480.6,407.2L482.8,409.4L484.9,411.6L487.1,413.8L489.3,416.1L491.5,418.5L493.6,420.9L495.8,423.4L498.0,425.9L500.2,428.5L502.3,431.2L504.5,433.9L506.7,436.7L508.9,439.6L511.0,442.6L513.2,445.6L515.4,448.7L517.6,451.8L519.7,455.1L521.9,458.4L524.1,461.8L526.3,465.2L528.4,468.8L530.6,472.4L532.8,476.1L534.9,479.8L537.1,483.7L539.3,487.6L541.5,491.6L543.6,495.6L545.8,499.8L548.0,504.0L550.2,508.2L552.3,512.5L554.5,516.9L556.7,521.4L558.9,525.9L561.0,530.4L563.2,535.0L565.4,539.6L567.6,544.3L569.7,548.9L571.9,553.6L574.1,558.3L576.3,563.0L578.4,567.7L580.6,572.6" fill="none" stroke="#525252" stroke-width="1.9"/>
<path d="M104.5,324.2 L670.0,324.2" stroke="#de3434" stroke-width="2.6" stroke-dasharray="9.8 11.7" stroke-dashoffset="0" fill="none"/>
<path d="M285.9,1.3 V324.3 M285.9,324.8 V572.6" stroke="#000" stroke-width="2.1" stroke-dasharray="9.6 7.7" fill="none"/>
</g>
<rect x="104.5" y="6.5" width="565.5" height="566.1" fill="none" stroke-width="2.6"/>
<path d="M104.5,19.2h7.5M104.5,276.6h7.5M104.5,534.0h7.5M161.2,572.6v-3.8M194.4,572.6v-3.8M218.0,572.6v-3.8M236.3,572.6v-3.8M251.2,572.6v-3.8M263.8,572.6v-3.8M274.7,572.6v-3.8M284.4,572.6v-3.8M293.0,572.6v-7.5M349.7,572.6v-3.8M382.9,572.6v-3.8M406.5,572.6v-3.8M424.8,572.6v-3.8M439.7,572.6v-3.8M452.3,572.6v-3.8M463.2,572.6v-3.8M472.9,572.6v-3.8M481.5,572.6v-7.5M538.2,572.6v-3.8M571.4,572.6v-3.8M595.0,572.6v-3.8M613.3,572.6v-3.8M628.2,572.6v-3.8M640.8,572.6v-3.8M651.7,572.6v-3.8M661.4,572.6v-3.8" stroke-width="2.2" fill="none"/>
<text transform="translate(2.81,36.0) scale(1,1.12)" font-size="38" font-weight="bold">a</text>
<text transform="translate(96,28.6) scale(1,1.02)" font-size="33" text-anchor="end" >5.5</text>
<text transform="translate(96,285.99999999999994) scale(1,1.02)" font-size="33" text-anchor="end" >4.5</text>
<text transform="translate(96,543.4) scale(1,1.02)" font-size="33" text-anchor="end" >3.5</text>
<text transform="translate(104.5,606.8) scale(1,1.02)" font-size="33" text-anchor="middle" >0.001</text>
<text transform="translate(293.0,606.8) scale(1,1.02)" font-size="33" text-anchor="middle" >0.01</text>
<text transform="translate(481.5,606.8) scale(1,1.02)" font-size="33" text-anchor="middle" >0.1</text>
<text transform="translate(670.0,606.8) scale(1,1.02)" font-size="33" text-anchor="middle" >1</text>
<text transform="translate(362.98,647.6) scale(1,1.0)" font-size="33.5" font-style="italic">k</text>
<text transform="translate(28.2,298) rotate(-90) scale(1,1.03)" font-size="33.4" text-anchor="middle" >Frequency (MHz)</text>
<text transform="translate(200,477.5) scale(1,1.04)" font-size="33.8" text-anchor="middle" >Position-</text>
<text transform="translate(199.7,517.5) scale(1,1.04)" font-size="33.8" text-anchor="middle" >insensitive</text>
<path d="M190.0,436.9 L114.3,436.9" stroke-width="3.1" fill="none"/>
<path d="M105.3,436.9 L115.3,431.3 L115.3,442.5Z" stroke="none"/>
<path d="M190.0,436.9 L276.3,436.9" stroke-width="3.1" fill="none"/>
<path d="M285.3,436.9 L275.3,442.5 L275.3,431.3Z" stroke="none"/>
<text transform="translate(464.5,292.8) scale(1,1.04)" font-size="33.3" text-anchor="start" >0.005<tspan font-style="italic">f</tspan><tspan font-size="22" dy="7.6" dx="0.8">s</tspan></text>
<text transform="translate(640.5,297.6) scale(1,1.04)" font-size="33.3" text-anchor="start" ><tspan font-style="italic">f</tspan><tspan font-size="22" dy="7.6" dx="0.5">s</tspan></text>
<path d="M516.0,301.5 L516.0,313.4" stroke-width="3.3" fill="none"/>
<path d="M516.0,323.4 L510.0,312.4 L522.0,312.4Z" stroke="none"/>
<path d="M516.0,352.7 L516.0,341.6" stroke-width="3.3" fill="none"/>
<path d="M516.0,331.6 L522.0,342.6 L510.0,342.6Z" stroke="none"/>
<path d="M637.1,302.3 L622.6,315.9" stroke-width="3.4" fill="none"/>
<path d="M614.6,323.4 L619.1,310.6 L627.6,319.8Z" stroke="none"/>
<g fill="none" stroke-width="2.2">
<path d="M156.2,321.7 h9.6 l-4.8,8.4Z" stroke-width="2.1"/>
<path d="M281.0,333.4 h9.6 l-4.8,-8.4Z" stroke-width="2.1"/>
<rect x="400.5" y="352.3" width="10" height="10"/>
<path d="M538.2,478.9 l6.5,6.5 l-6.5,6.5 l-6.5,-6.5Z"/>
</g>
<rect x="743.3" y="19.5" width="34.3" height="477.5" fill="url(#cbTop)" stroke="none"/>
<rect x="743.3" y="497" width="34.3" height="67.3" fill="url(#cbBot)" stroke="none"/>
<path d="M743.3,497 h34.3" stroke="#5c5c5c" stroke-width="1.9"/>
<rect x="743.3" y="19.5" width="34.3" height="544.8" fill="none" stroke-width="2.6"/>
<text transform="translate(795,33) scale(1,1.03)" font-size="33" text-anchor="start" >2.12</text>
<text transform="translate(791,511.3) scale(1,1.03)" font-size="33" text-anchor="start" >0</text>
<text transform="translate(796,577) scale(1,1.03)" font-size="33" text-anchor="start" >-0.29</text>
<text transform="translate(714,611.1) scale(1,1.0)" font-size="34" text-anchor="start" >d<tspan font-style="italic">θ</tspan> / d<tspan font-style="italic">f</tspan></text>
<text transform="translate(639.28,651.0) scale(1,1.03)" font-size="32.5">(10</text>
<text transform="translate(686.30,640.9) scale(1,1.03)" font-size="22">-3</text>
<text transform="translate(716.47,651.0) scale(1,1.03)" font-size="33">deg.</text>
<text transform="translate(781.69,651.0) scale(1,1.0)" font-size="33">·</text>
<text transform="translate(791.54,651.0) scale(1,1.0)" font-size="34">MHz</text>
<text transform="translate(860.70,640.9) scale(1,1.03)" font-size="22">-1</text>
<text transform="translate(881.86,651.0) scale(1,1.03)" font-size="32.5">)</text>
<text transform="translate(912.80,35.3) scale(1,1.0)" font-size="40" font-weight="bold">b</text>
<rect x="1150.8" y="8.0" width="6.8" height="554.2" fill="#faf9d8" stroke="none"/>
<path d="M1156.8,8.0 V562.2" stroke="#d4464a" stroke-width="1.7" stroke-dasharray="4.4 2.7" stroke-dashoffset="2.2" fill="none"/>
<path d="M996.7,23.5L997.9,24.3L999.0,25.1L1000.2,25.9L1001.4,26.7L1002.6,27.5L1003.7,28.4L1004.9,29.2L1006.1,30.0L1007.2,30.8L1008.4,31.6L1009.5,32.4L1010.7,33.3L1011.9,34.1L1013.0,34.9L1014.2,35.7L1015.3,36.6L1016.5,37.4L1017.7,38.2L1018.8,39.1L1020.0,39.9L1021.1,40.7L1022.3,41.6L1023.4,42.4L1024.5,43.3L1025.7,44.1L1026.8,44.9L1028.0,45.8L1029.1,46.6L1030.3,47.5L1031.4,48.3L1032.5,49.2L1033.7,50.0L1034.8,50.9L1036.0,51.7L1037.1,52.6L1038.3,53.4L1039.4,54.3L1040.5,55.1L1041.7,56.0L1042.8,56.8L1044.0,57.7L1045.1,58.5L1046.3,59.4L1047.4,60.2L1048.5,61.1L1049.7,61.9L1050.8,62.7L1052.0,63.6L1053.1,64.4L1054.3,65.3L1055.4,66.1L1056.6,67.0L1057.7,67.8L1058.9,68.7L1060.0,69.5L1061.1,70.3L1062.3,71.2L1063.4,72.0L1064.6,72.9L1065.7,73.7L1066.9,74.6L1068.0,75.4L1069.2,76.2L1070.3,77.1L1071.5,77.9L1072.6,78.7L1073.8,79.6L1074.9,80.4L1076.1,81.3L1077.2,82.1L1078.4,82.9L1079.5,83.7L1080.7,84.6L1081.9,85.4L1083.0,86.2L1084.2,87.1L1085.3,87.9L1086.5,88.7L1087.6,89.6L1088.8,90.4L1089.9,91.2L1091.1,92.1L1092.2,92.9L1093.4,93.7L1094.5,94.6L1095.7,95.4L1096.8,96.2L1098.0,97.1L1099.1,97.9L1100.3,98.8L1101.4,99.6L1102.6,100.4L1103.7,101.3L1104.9,102.1L1106.1,102.9L1107.2,103.8L1108.4,104.6L1109.5,105.4L1110.7,106.3L1111.8,107.1L1113.0,107.9L1114.1,108.8L1115.3,109.6L1116.4,110.5L1117.6,111.3L1118.7,112.2L1119.8,113.0L1121.0,113.9L1122.1,114.8L1123.1,115.7L1124.2,116.6L1125.3,117.6L1126.3,118.6L1127.3,119.6L1128.4,120.6L1129.3,121.6L1130.3,122.6L1131.3,123.6L1132.2,124.7L1133.2,125.8L1134.1,126.9L1135.0,128.0L1135.9,129.1L1136.8,130.2L1137.6,131.3L1138.4,132.5L1139.0,133.8L1139.6,135.1L1140.2,136.4L1140.8,137.7L1141.4,139.0L1141.9,140.3L1142.4,141.7L1142.9,143.0L1143.3,144.4L1143.7,145.7L1144.1,147.1L1144.5,148.5L1144.8,149.8L1145.2,151.2L1145.5,152.6L1145.8,154.0L1146.1,155.4L1146.4,156.8L1146.7,158.2L1146.9,159.6L1147.2,161.0L1147.4,162.4L1147.6,163.8L1147.8,165.2L1147.9,166.6L1148.1,168.0L1148.3,169.4L1148.5,170.9L1148.6,172.3L1148.8,173.7L1149.0,175.1L1149.2,176.5L1149.3,177.9L1149.5,179.3L1149.7,180.7L1149.8,182.2L1150.0,183.6L1150.1,185.0L1150.2,186.6L1150.3,188.3L1150.4,190.1L1150.5,191.9L1150.6,193.8L1150.7,195.7L1150.8,197.6L1150.9,199.4L1151.0,201.2L1151.1,202.8L1151.2,204.4L1151.3,205.8L1151.4,207.0L1151.5,208.0L1151.6,208.7L1151.7,209.3L1151.8,209.5L1151.9,209.4L1152.0,209.1L1152.1,208.4L1152.2,207.5L1152.4,206.4L1152.5,205.2L1152.6,203.7L1152.8,202.1L1152.9,200.4L1153.0,198.6L1153.2,196.8L1153.3,194.9L1153.4,193.0L1153.5,191.1L1153.7,189.3L1153.8,187.6L1153.9,185.9L1154.0,184.4L1154.1,182.9L1154.2,181.5L1154.2,180.1L1154.3,178.7L1154.4,177.3L1154.5,175.8L1154.5,174.4L1154.6,173.0L1154.7,171.6L1154.7,170.2L1154.8,168.7L1154.9,167.3L1154.9,165.9L1155.0,164.5L1155.1,163.0L1155.2,161.6L1155.2,160.2L1155.3,158.8L1155.4,157.4L1155.5,156.0L1155.6,154.5L1155.7,153.1L1155.8,151.7L1156.0,150.3L1156.1,148.8L1156.2,147.4L1156.3,146.0L1156.5,144.6L1156.7,143.1L1156.9,141.7L1157.1,140.3L1157.3,139.0L1157.6,137.6L1157.9,136.1L1158.4,134.7L1159.0,133.4L1159.7,132.3L1160.8,131.3L1162.1,130.6L1163.4,130.8L1164.7,131.4L1166.0,132.1L1167.2,132.8L1168.3,133.7L1169.3,134.6L1170.4,135.6L1171.4,136.7L1172.3,137.7L1173.3,138.8L1174.3,139.9L1175.4,140.8L1176.5,141.8L1177.6,142.7L1178.7,143.6L1179.8,144.5L1180.9,145.3L1182.0,146.2L1183.1,147.1L1184.2,148.0L1185.4,148.8L1186.5,149.7L1187.6,150.5L1188.8,151.4L1189.9,152.2L1191.1,153.1L1192.3,153.9L1193.4,154.7L1194.6,155.6L1195.7,156.4L1196.9,157.2L1198.1,158.0L1199.2,158.9L1200.4,159.7L1201.6,160.5L1202.7,161.3L1203.9,162.1L1205.1,162.9L1206.3,163.7L1207.4,164.5L1208.6,165.3L1209.8,166.0L1211.0,166.8L1212.2,167.6L1213.4,168.3L1214.6,169.1L1215.8,169.9L1217.0,170.6L1218.2,171.4L1219.4,172.2L1220.6,172.9L1221.8,173.7L1223.0,174.5L1224.2,175.2L1225.4,176.0L1226.6,176.8L1227.8,177.5L1229.0,178.3L1230.2,179.1L1231.4,179.8L1232.6,180.6L1233.8,181.3L1235.0,182.1L1236.2,182.9L1237.4,183.6L1238.6,184.4L1239.8,185.1L1241.0,185.9L1242.2,186.7L1243.4,187.4L1244.7,188.2L1245.9,188.9L1247.1,189.7L1248.3,190.4L1249.5,191.2L1250.7,191.9L1251.9,192.7L1253.1,193.4L1254.3,194.2L1255.5,195.0L1256.7,195.7L1257.9,196.5L1259.1,197.2L1260.3,198.0L1261.5,198.8L1262.7,199.5L1263.9,200.3L1265.1,201.0L1266.3,201.8L1267.6,202.5L1268.8,203.3L1270.0,204.0L1271.2,204.8L1272.4,205.5L1273.6,206.3L1274.8,207.0L1276.1,207.7L1277.3,208.4L1278.5,209.2L1279.7,209.9L1281.0,210.6L1282.2,211.3L1283.4,212.0L1284.7,212.7L1285.9,213.4L1287.2,214.1L1288.4,214.7L1289.7,215.4L1290.9,216.1L1292.2,216.8L1293.4,217.5L1294.7,218.1L1295.9,218.8L1297.2,219.5L1298.4,220.2L1299.7,220.8L1300.9,221.5L1302.2,222.2L1303.4,222.9L1304.7,223.6L1305.9,224.3L1307.2,225.0L1308.4,225.6L1309.7,226.3L1310.9,227.0L1312.1,227.7L1313.4,228.4L1314.6,229.1L1315.9,229.8L1317.1,230.5L1318.4,231.2L1319.6,231.9L1320.8,232.6L1322.1,233.2L1323.3,233.9L1324.6,234.6L1325.8,235.3L1327.1,236.0L1328.3,236.7L1329.6,237.3L1330.8,238.0L1332.1,238.7L1333.3,239.4L1334.6,240.0L1335.8,240.7L1337.1,241.4L1338.4,242.0L1339.6,242.7L1340.9,243.4L1342.1,244.0L1343.4,244.7L1344.6,245.4L1345.9,246.0L1347.2,246.7L1348.4,247.4L1349.7,248.0L1350.9,248.7L1352.2,249.3L1353.5,250.0L1354.7,250.6L1356.0,251.3" fill="none" stroke-width="2.3" stroke-linejoin="round"/>
<path d="M996.7,339.2L998.4,339.5L1000.1,339.7L1001.8,340.0L1003.4,340.2L1005.1,340.5L1006.8,340.8L1008.5,341.0L1010.2,341.3L1011.9,341.5L1013.6,341.8L1015.2,342.1L1016.9,342.4L1018.6,342.6L1020.3,342.9L1022.0,343.2L1023.7,343.5L1025.3,343.8L1027.0,344.0L1028.7,344.3L1030.4,344.6L1032.1,344.9L1033.8,345.1L1035.4,345.4L1037.1,345.7L1038.8,346.0L1040.5,346.3L1042.2,346.5L1043.9,346.8L1045.6,347.1L1047.2,347.4L1048.9,347.7L1050.6,348.0L1052.3,348.3L1054.0,348.6L1055.6,348.9L1057.3,349.3L1059.0,349.6L1060.7,349.9L1062.3,350.3L1064.0,350.6L1065.7,351.0L1067.3,351.3L1069.0,351.7L1070.6,352.1L1072.3,352.5L1073.9,352.9L1075.6,353.3L1077.3,353.8L1078.9,354.2L1080.6,354.7L1082.2,355.1L1083.9,355.6L1085.5,356.1L1087.1,356.6L1088.7,357.1L1090.4,357.7L1092.0,358.2L1093.6,358.8L1095.2,359.4L1096.8,359.9L1098.4,360.6L1100.0,361.2L1101.6,361.8L1103.2,362.5L1104.8,363.2L1106.3,364.0L1107.8,364.7L1109.3,365.5L1110.8,366.4L1112.2,367.2L1113.6,368.2L1115.0,369.2L1116.4,370.2L1117.7,371.4L1119.0,372.5L1120.3,373.7L1121.5,375.0L1122.7,376.2L1123.8,377.5L1124.7,378.8L1125.7,380.1L1126.6,381.5L1127.5,383.0L1128.4,384.5L1129.2,386.0L1130.0,387.6L1130.7,389.2L1131.4,390.8L1132.1,392.4L1132.7,394.0L1133.2,395.6L1133.7,397.2L1134.2,398.8L1134.6,400.4L1135.1,402.0L1135.5,403.7L1135.8,405.4L1136.2,407.0L1136.5,408.7L1136.9,410.4L1137.2,412.1L1137.5,413.8L1137.8,415.5L1138.1,417.2L1138.4,418.9L1138.7,420.6L1138.9,422.2L1139.2,423.9L1139.4,425.6L1139.7,427.3L1139.9,429.0L1140.2,430.7L1140.4,432.4L1140.6,434.1L1140.8,435.8L1141.0,437.5L1141.2,439.1L1141.4,440.8L1141.6,442.5L1141.8,444.2L1142.0,445.9L1142.2,447.6L1142.4,449.3L1142.6,451.0L1142.8,452.7L1143.0,454.4L1143.1,456.1L1143.3,457.8L1143.5,459.5L1143.7,461.2L1143.8,462.9L1144.0,464.6L1144.2,466.3L1144.3,468.0L1144.5,469.7L1144.6,471.4L1144.8,473.1L1145.0,474.8L1145.1,476.5L1145.3,478.2L1145.4,479.9L1145.6,481.6L1145.8,483.3L1145.9,485.2L1146.1,487.1L1146.3,489.2L1146.4,491.3L1146.6,493.4L1146.8,495.6L1146.9,497.9L1147.1,500.1L1147.3,502.4L1147.5,504.7L1147.6,506.9L1147.8,509.1L1148.0,511.3L1148.1,513.4L1148.3,515.5L1148.4,517.4L1148.6,519.3L1148.7,521.1L1148.9,522.8L1149.0,524.3L1149.2,525.8L1149.3,527.0L1149.4,528.1L1149.6,529.0L1149.7,529.8L1149.8,530.3L1149.9,530.6L1150.0,530.7L1150.1,530.6L1150.2,530.2L1150.3,529.7L1150.4,529.0L1150.5,528.1L1150.5,527.1L1150.6,525.9L1150.7,524.5L1150.8,523.0L1150.8,521.4L1150.9,519.7L1151.0,517.9L1151.0,516.0L1151.1,514.0L1151.2,511.9L1151.2,509.8L1151.3,507.6L1151.4,505.4L1151.4,503.2L1151.5,500.9L1151.5,498.6L1151.6,496.4L1151.7,494.1L1151.7,491.9L1151.8,489.7L1151.8,487.5L1151.9,485.4L1152.0,483.4L1152.0,481.4L1152.1,479.5L1152.2,477.7L1152.2,476.0L1152.3,474.3L1152.4,472.6L1152.5,470.9L1152.5,469.2L1152.6,467.5L1152.7,465.8L1152.7,464.1L1152.8,462.4L1152.9,460.7L1152.9,459.0L1153.0,457.3L1153.1,455.6L1153.1,453.8L1153.2,452.1L1153.3,450.4L1153.3,448.7L1153.4,447.0L1153.5,445.3L1153.6,443.6L1153.6,441.9L1153.7,440.2L1153.8,438.5L1153.8,436.8L1153.9,435.1L1154.0,433.4L1154.1,431.7L1154.2,430.0L1154.2,428.3L1154.3,426.6L1154.4,424.9L1154.5,423.2L1154.5,421.5L1154.6,419.8L1154.7,418.1L1154.8,416.4L1154.8,414.6L1154.9,412.9L1155.0,411.2L1155.1,409.5L1155.2,407.8L1155.3,406.1L1155.3,404.4L1155.4,402.7L1155.5,401.0L1155.6,399.3L1155.7,397.6L1155.8,395.9L1155.9,394.2L1156.0,392.5L1156.1,390.8L1156.2,389.1L1156.3,387.4L1156.5,385.7L1156.6,384.0L1156.7,382.3L1156.8,380.6L1157.0,378.9L1157.1,377.2L1157.2,375.5L1157.4,373.8L1157.5,372.1L1157.7,370.4L1157.8,368.7L1158.0,367.0L1158.2,365.3L1158.4,363.6L1158.6,361.9L1158.7,360.2L1158.9,358.5L1159.1,356.8L1159.3,355.1L1159.6,353.3L1159.8,351.7L1160.1,350.0L1160.4,348.3L1160.8,346.7L1161.2,345.1L1161.7,343.3L1162.4,341.6L1163.2,340.1L1164.2,339.0L1165.7,338.0L1167.3,337.4L1169.0,337.5L1170.6,338.0L1172.3,338.5L1173.9,339.1L1175.5,339.7L1177.0,340.4L1178.5,341.2L1180.1,342.0L1181.6,342.8L1183.1,343.6L1184.7,344.3L1186.2,345.0L1187.8,345.6L1189.4,346.2L1191.0,346.8L1192.6,347.3L1194.2,347.9L1195.9,348.4L1197.5,348.9L1199.1,349.5L1200.8,350.0L1202.4,350.4L1204.1,350.9L1205.7,351.3L1207.4,351.8L1209.0,352.2L1210.7,352.6L1212.3,353.0L1214.0,353.4L1215.6,353.7L1217.3,354.1L1219.0,354.5L1220.6,354.8L1222.3,355.2L1224.0,355.5L1225.7,355.9L1227.3,356.2L1229.0,356.5L1230.7,356.8L1232.4,357.1L1234.1,357.4L1235.7,357.7L1237.4,358.0L1239.1,358.3L1240.8,358.6L1242.5,358.8L1244.2,359.1L1245.8,359.4L1247.5,359.6L1249.2,359.9L1250.9,360.1L1252.6,360.3L1254.3,360.6L1256.0,360.8L1257.7,361.0L1259.3,361.3L1261.0,361.5L1262.7,361.7L1264.4,361.9L1266.1,362.1L1267.8,362.3L1269.5,362.5L1271.2,362.7L1272.9,363.0L1274.6,363.2L1276.3,363.4L1278.0,363.6L1279.7,363.8L1281.4,364.0L1283.1,364.2L1284.8,364.4L1286.5,364.6L1288.1,364.8L1289.8,365.0L1291.5,365.2L1293.2,365.4L1294.9,365.5L1296.6,365.7L1298.3,365.9L1300.0,366.1L1301.7,366.3L1303.4,366.5L1305.1,366.7L1306.8,366.9L1308.5,367.1L1310.2,367.2L1311.9,367.4L1313.6,367.6L1315.3,367.8L1317.0,368.0L1318.7,368.1L1320.4,368.3L1322.1,368.5L1323.8,368.7L1325.5,368.9L1327.2,369.0L1328.8,369.2L1330.5,369.4L1332.2,369.6L1333.9,369.8L1335.6,369.9L1337.3,370.1L1339.0,370.3L1340.7,370.5L1342.4,370.6L1344.1,370.8L1345.8,371.0L1347.5,371.1L1349.2,371.3L1350.9,371.5L1352.6,371.7L1354.3,371.8L1356.0,372.0" fill="none" stroke-width="2.3" stroke-linejoin="round"/>
<rect x="996.7" y="8.0" width="359.2" height="554.2" fill="none" stroke-width="2.6"/>
<path d="M996.7,285.4 H1355.9" stroke-width="2.6"/>
<text transform="translate(987.4000000000001,69.5) scale(1,1.02)" font-size="33" text-anchor="end" >60</text>
<text transform="translate(987.4000000000001,243.1) scale(1,1.02)" font-size="33" text-anchor="end" >50</text>
<text transform="translate(987.4000000000001,324.2) scale(1,1.02)" font-size="33" text-anchor="end" >70</text>
<text transform="translate(987.4000000000001,425.8) scale(1,1.02)" font-size="33" text-anchor="end" >35</text>
<text transform="translate(987.4000000000001,528.7) scale(1,1.02)" font-size="33" text-anchor="end" >0</text>
<text transform="translate(1020.3000000000001,595.2) scale(1,1.02)" font-size="33" text-anchor="middle" >3.5</text>
<text transform="translate(1183.9,595.2) scale(1,1.02)" font-size="33" text-anchor="middle" >4.5</text>
<text transform="translate(1347.7,595.2) scale(1,1.02)" font-size="33" text-anchor="middle" >5.5</text>
<path d="M996.7,59.5h7.5M996.7,233.1h7.5M996.7,314.2h7.5M996.7,415.8h7.5M996.7,518.7h7.5M1020.6,285.4v-7.5M1020.6,562.2v-7.5M1184.2,285.4v-7.5M1184.2,562.2v-7.5M1348,285.4v-7.5M1348,562.2v-7.5" stroke-width="2.2" fill="none"/>
<text transform="translate(1186.6,633.1) scale(1,1.03)" font-size="33.3" text-anchor="middle" >Frequency (MHz)</text>
<rect x="1581.6" y="8.0" width="6.2" height="554.2" fill="#faf9d8" stroke="none"/>
<path d="M1587.0,8.0 V562.2" stroke="#d4464a" stroke-width="1.7" stroke-dasharray="4.4 2.7" stroke-dashoffset="2.2" fill="none"/>
<path d="M1430.3,71.0L1431.9,71.5L1433.5,72.1L1435.1,72.7L1436.7,73.2L1438.2,73.8L1439.8,74.5L1441.4,75.1L1442.9,75.7L1444.5,76.4L1446.0,77.1L1447.6,77.7L1449.1,78.4L1450.6,79.1L1452.1,79.9L1453.6,80.6L1455.1,81.4L1456.6,82.1L1458.1,82.9L1459.6,83.7L1461.1,84.6L1462.5,85.4L1464.0,86.3L1465.4,87.1L1466.8,88.0L1468.3,88.9L1469.7,89.8L1471.1,90.8L1472.5,91.7L1473.9,92.7L1475.2,93.7L1476.6,94.7L1478.0,95.7L1479.3,96.7L1480.6,97.8L1481.9,98.9L1483.2,99.9L1484.4,101.1L1485.6,102.2L1486.8,103.3L1488.0,104.5L1489.2,105.7L1490.3,107.0L1491.5,108.2L1492.6,109.5L1493.7,110.8L1494.8,112.1L1495.9,113.4L1496.9,114.7L1498.0,116.1L1499.0,117.4L1500.0,118.8L1500.9,120.2L1501.9,121.6L1502.8,123.0L1503.6,124.4L1504.5,125.8L1505.3,127.2L1506.1,128.7L1506.9,130.2L1507.7,131.7L1508.5,133.2L1509.2,134.7L1510.0,136.2L1510.7,137.7L1511.4,139.3L1512.1,140.8L1512.8,142.4L1513.5,143.9L1514.2,145.4L1514.9,147.0L1515.6,148.5L1516.3,150.1L1516.9,151.6L1517.6,153.1L1518.3,154.7L1518.9,156.2L1519.5,157.8L1520.2,159.4L1520.8,160.9L1521.4,162.5L1522.0,164.0L1522.7,165.6L1523.3,167.2L1523.9,168.8L1524.5,170.3L1525.1,171.9L1525.7,173.5L1526.3,175.0L1526.9,176.6L1527.5,178.2L1528.1,179.8L1528.7,181.3L1529.3,182.9L1529.9,184.5L1530.5,186.0L1531.1,187.6L1531.7,189.2L1532.2,190.8L1532.8,192.4L1533.4,193.9L1534.0,195.5L1534.5,197.1L1535.1,198.7L1535.7,200.3L1536.3,201.9L1536.9,203.4L1537.4,205.0L1538.0,206.6L1538.6,208.2L1539.2,209.7L1539.8,211.3L1540.5,212.9L1541.1,214.4L1541.7,216.0L1542.4,217.5L1543.0,219.1L1543.6,220.6L1544.3,222.2L1544.9,223.8L1545.6,225.4L1546.2,226.9L1546.9,228.5L1547.5,230.0L1548.2,231.6L1548.9,233.2L1549.6,234.7L1550.3,236.2L1551.0,237.7L1551.8,239.2L1552.6,240.7L1553.3,242.2L1554.2,243.6L1555.0,245.1L1555.9,246.5L1556.8,247.9L1557.7,249.3L1558.6,250.8L1559.6,252.2L1560.7,253.5L1561.8,254.9L1562.9,256.2L1564.0,257.4L1565.2,258.5L1566.4,259.6L1567.8,260.7L1569.3,261.9L1570.8,262.7L1572.2,262.9L1573.6,262.3L1575.1,261.1L1576.3,259.7L1577.2,258.3L1577.9,257.0L1578.5,255.5L1579.1,253.9L1579.6,252.3L1580.0,250.6L1580.4,248.9L1580.8,247.1L1581.1,245.4L1581.4,243.7L1581.7,242.1L1581.9,240.4L1582.2,238.8L1582.4,237.1L1582.6,235.4L1582.8,233.8L1583.0,232.1L1583.2,230.4L1583.4,228.7L1583.6,227.0L1583.7,225.4L1583.9,223.7L1584.0,222.0L1584.1,220.3L1584.2,218.6L1584.3,217.0L1584.4,215.3L1584.5,213.6L1584.6,211.9L1584.7,210.3L1584.8,208.6L1584.9,206.9L1585.0,205.2L1585.1,203.5L1585.1,201.9L1585.2,200.2L1585.3,198.5L1585.3,196.8L1585.4,195.1L1585.5,193.5L1585.6,191.8L1585.6,190.1L1585.7,188.4L1585.8,186.7L1585.9,185.0L1585.9,183.4L1586.0,181.7L1586.1,180.0L1586.2,178.3L1586.2,176.6L1586.3,175.0L1586.4,173.3L1586.5,171.6L1586.6,169.9L1586.6,168.2L1586.7,166.6L1586.8,164.9L1586.9,163.2L1587.0,161.5L1587.0,159.8L1587.1,158.2L1587.2,156.5L1587.3,154.8L1587.3,153.1L1587.4,151.4L1587.5,149.8L1587.6,148.1L1587.6,146.4L1587.7,144.7L1587.8,143.0L1587.8,141.4L1587.9,139.7L1588.0,138.0L1588.0,136.3L1588.1,134.6L1588.1,132.9L1588.2,131.3L1588.3,129.6L1588.3,127.9L1588.4,126.2L1588.4,124.5L1588.5,122.9L1588.6,121.2L1588.6,119.5L1588.7,117.8L1588.7,116.1L1588.8,114.4L1588.9,112.8L1588.9,111.1L1589.0,109.4L1589.1,107.7L1589.1,106.0L1589.2,104.4L1589.3,102.7L1589.4,101.0L1589.5,99.3L1589.6,97.6L1589.7,96.0L1589.8,94.3L1589.9,92.6L1590.0,90.9L1590.1,89.2L1590.2,87.6L1590.3,85.9L1590.4,84.2L1590.5,82.5L1590.6,80.8L1590.8,79.2L1590.9,77.5L1591.1,75.8L1591.2,74.1L1591.4,72.5L1591.5,70.8L1591.7,69.1L1591.9,67.5L1592.1,65.8L1592.3,64.1L1592.5,62.4L1592.8,60.8L1593.0,59.1L1593.3,57.4L1593.6,55.8L1593.9,54.1L1594.2,52.5L1594.6,50.8L1595.0,49.2L1595.4,47.5L1595.9,45.9L1596.4,44.2L1597.0,42.6L1597.7,41.0L1598.4,39.6L1599.2,38.3L1600.2,36.9L1601.5,35.6L1602.8,34.5L1604.3,33.5L1605.7,32.9L1607.3,32.4L1608.9,32.0L1610.6,31.7L1612.3,31.6L1614.0,31.6L1615.7,31.7L1617.4,31.8L1619.0,31.9L1620.7,32.0L1622.4,32.1L1624.1,32.3L1625.8,32.4L1627.4,32.6L1629.1,32.8L1630.7,33.1L1632.4,33.4L1634.0,33.7L1635.7,34.0L1637.3,34.4L1639.0,34.7L1640.6,35.1L1642.3,35.5L1643.9,35.9L1645.6,36.3L1647.2,36.7L1648.8,37.1L1650.5,37.5L1652.1,37.8L1653.8,38.2L1655.4,38.5L1657.1,38.8L1658.7,39.1L1660.4,39.4L1662.1,39.7L1663.7,40.0L1665.4,40.3L1667.0,40.6L1668.7,40.9L1670.3,41.2L1672.0,41.5L1673.6,41.8L1675.3,42.1L1677.0,42.3L1678.6,42.6L1680.3,42.9L1681.9,43.2L1683.6,43.5L1685.3,43.7L1686.9,44.0L1688.6,44.3L1690.2,44.5L1691.9,44.8L1693.6,45.1L1695.2,45.3L1696.9,45.6L1698.6,45.8L1700.2,46.1L1701.9,46.3L1703.5,46.5L1705.2,46.8L1706.9,47.0L1708.5,47.3L1710.2,47.5L1711.9,47.7L1713.5,47.9L1715.2,48.2L1716.9,48.4L1718.5,48.6L1720.2,48.8L1721.9,49.1L1723.6,49.3L1725.2,49.5L1726.9,49.7L1728.6,49.9L1730.2,50.1L1731.9,50.3L1733.6,50.5L1735.2,50.7L1736.9,50.9L1738.6,51.1L1740.3,51.3L1741.9,51.5L1743.6,51.7L1745.3,51.9L1746.9,52.1L1748.6,52.2L1750.3,52.4L1752.0,52.6L1753.6,52.8L1755.3,53.0L1757.0,53.1L1758.6,53.3L1760.3,53.5L1762.0,53.6L1763.7,53.8L1765.3,54.0L1767.0,54.1L1768.7,54.3L1770.4,54.5L1772.0,54.6L1773.7,54.8L1775.4,54.9L1777.1,55.1L1778.7,55.2L1780.4,55.4L1782.1,55.5L1783.8,55.7L1785.4,55.8L1787.1,56.0L1788.8,56.1" fill="none" stroke-width="2.3" stroke-linejoin="round"/>
<path d="M1430.3,535.0L1431.7,535.2L1433.0,535.4L1434.4,535.6L1435.8,535.8L1437.2,536.0L1438.5,536.2L1439.9,536.4L1441.3,536.5L1442.6,536.7L1444.0,536.9L1445.4,537.1L1446.8,537.2L1448.1,537.4L1449.5,537.6L1450.9,537.7L1452.2,537.9L1453.6,538.0L1455.0,538.2L1456.4,538.3L1457.7,538.4L1459.1,538.5L1460.5,538.6L1461.9,538.8L1463.3,538.9L1464.6,539.0L1466.0,539.1L1467.4,539.2L1468.8,539.3L1470.1,539.4L1471.5,539.5L1472.9,539.6L1474.3,539.7L1475.7,539.8L1477.0,539.9L1478.4,540.0L1479.8,540.1L1481.2,540.2L1482.6,540.3L1483.9,540.4L1485.3,540.5L1486.7,540.5L1488.1,540.6L1489.5,540.7L1490.9,540.8L1492.2,540.8L1493.6,540.9L1495.0,541.0L1496.4,541.0L1497.8,541.1L1499.1,541.1L1500.5,541.1L1501.9,541.2L1503.3,541.2L1504.7,541.2L1506.1,541.3L1507.4,541.3L1508.8,541.3L1510.2,541.4L1511.6,541.4L1513.0,541.4L1514.4,541.5L1515.7,541.5L1517.1,541.5L1518.5,541.5L1519.9,541.5L1521.3,541.6L1522.7,541.6L1524.0,541.6L1525.4,541.6L1526.8,541.6L1528.2,541.6L1529.6,541.6L1531.0,541.6L1532.3,541.6L1533.7,541.5L1535.1,541.5L1536.5,541.5L1537.9,541.4L1539.3,541.4L1540.7,541.3L1542.1,541.2L1543.4,541.2L1544.8,541.1L1546.2,541.0L1547.6,540.9L1549.0,540.8L1550.3,540.7L1551.7,540.6L1553.1,540.5L1554.4,540.4L1555.8,540.2L1557.2,540.1L1558.6,539.8L1559.9,539.5L1561.3,539.2L1562.7,538.8L1564.0,538.4L1565.4,538.0L1566.6,537.5L1567.9,537.0L1569.1,536.5L1570.3,535.8L1571.5,535.1L1572.6,534.2L1573.8,533.3L1574.8,532.4L1575.8,531.3L1576.7,530.3L1577.5,529.3L1578.2,528.2L1578.9,527.0L1579.6,525.8L1580.3,524.5L1580.8,523.2L1581.4,521.9L1581.9,520.6L1582.3,519.2L1582.6,517.9L1583.0,516.6L1583.3,515.3L1583.6,514.0L1583.9,512.6L1584.1,511.2L1584.4,509.9L1584.6,508.5L1584.8,507.1L1585.0,505.7L1585.2,504.4L1585.4,503.0L1585.6,501.6L1585.8,500.2L1585.9,498.8L1586.1,497.5L1586.2,496.1L1586.4,494.7L1586.5,493.4L1586.7,492.0L1586.8,490.6L1586.9,489.2L1587.0,487.8L1587.2,486.5L1587.3,485.1L1587.4,483.7L1587.5,482.3L1587.6,480.9L1587.7,479.6L1587.8,478.2L1587.9,476.8L1588.0,475.4L1588.1,474.0L1588.2,472.7L1588.3,471.3L1588.4,469.9L1588.5,468.5L1588.6,467.1L1588.7,465.8L1588.8,464.4L1588.9,463.0L1589.0,461.6L1589.1,460.2L1589.1,458.9L1589.2,457.5L1589.3,456.1L1589.4,454.7L1589.5,453.3L1589.6,452.0L1589.7,450.6L1589.8,449.2L1589.8,447.8L1589.9,446.4L1590.0,445.1L1590.1,443.7L1590.2,442.3L1590.2,440.9L1590.3,439.5L1590.4,438.2L1590.5,436.8L1590.6,435.4L1590.6,434.0L1590.7,432.6L1590.8,431.3L1590.9,429.9L1591.0,428.5L1591.0,427.1L1591.1,425.7L1591.2,424.4L1591.3,423.0L1591.4,421.6L1591.5,420.2L1591.5,418.8L1591.6,417.5L1591.7,416.1L1591.8,414.7L1591.9,413.3L1591.9,411.9L1592.0,410.6L1592.1,409.2L1592.2,407.8L1592.2,406.4L1592.3,405.0L1592.4,403.6L1592.5,402.3L1592.5,400.9L1592.6,399.5L1592.7,398.1L1592.8,396.7L1592.9,395.4L1592.9,394.0L1593.0,392.6L1593.1,391.2L1593.2,389.8L1593.3,388.5L1593.4,387.1L1593.5,385.7L1593.6,384.3L1593.7,382.9L1593.7,381.6L1593.8,380.2L1593.9,378.8L1594.0,377.4L1594.1,376.0L1594.2,374.7L1594.3,373.3L1594.4,371.9L1594.5,370.5L1594.6,369.1L1594.7,367.8L1594.8,366.4L1595.0,365.0L1595.1,363.6L1595.2,362.2L1595.3,360.9L1595.4,359.5L1595.6,358.1L1595.7,356.7L1595.8,355.4L1596.0,354.0L1596.1,352.6L1596.3,351.2L1596.4,349.9L1596.6,348.5L1596.8,347.1L1597.0,345.8L1597.2,344.4L1597.4,343.0L1597.6,341.6L1597.8,340.3L1598.1,338.9L1598.3,337.5L1598.6,336.2L1598.9,334.8L1599.2,333.5L1599.5,332.1L1599.8,330.8L1600.1,329.5L1600.5,328.1L1601.0,326.8L1601.4,325.5L1602.0,324.1L1602.5,322.9L1603.1,321.6L1603.7,320.4L1604.4,319.3L1605.1,318.1L1606.0,317.0L1607.0,315.9L1608.0,314.9L1609.0,314.0L1610.1,313.2L1611.2,312.5L1612.4,311.9L1613.7,311.2L1615.0,310.7L1616.3,310.2L1617.7,309.7L1619.0,309.4L1620.3,309.0L1621.6,308.7L1623.0,308.4L1624.3,308.1L1625.7,307.8L1627.1,307.5L1628.4,307.3L1629.8,307.1L1631.2,306.9L1632.6,306.8L1634.0,306.7L1635.3,306.6L1636.7,306.6L1638.1,306.5L1639.5,306.4L1640.8,306.4L1642.2,306.3L1643.6,306.2L1645.0,306.2L1646.4,306.1L1647.8,306.1L1649.1,306.1L1650.5,306.0L1651.9,306.0L1653.3,306.0L1654.7,305.9L1656.1,305.9L1657.5,305.9L1658.8,305.9L1660.2,305.9L1661.6,305.9L1663.0,305.9L1664.4,305.9L1665.7,305.9L1667.1,305.9L1668.5,305.9L1669.9,305.9L1671.3,305.9L1672.7,305.9L1674.0,305.9L1675.4,305.9L1676.8,305.9L1678.2,305.9L1679.6,306.0L1681.0,306.0L1682.3,306.0L1683.7,306.0L1685.1,306.0L1686.5,306.0L1687.9,306.0L1689.3,306.0L1690.6,306.0L1692.0,306.0L1693.4,306.0L1694.8,306.0L1696.2,306.1L1697.6,306.1L1698.9,306.1L1700.3,306.1L1701.7,306.1L1703.1,306.1L1704.5,306.1L1705.9,306.1L1707.2,306.2L1708.6,306.2L1710.0,306.2L1711.4,306.2L1712.8,306.2L1714.1,306.2L1715.5,306.2L1716.9,306.3L1718.3,306.3L1719.7,306.3L1721.1,306.3L1722.4,306.3L1723.8,306.3L1725.2,306.3L1726.6,306.4L1728.0,306.4L1729.4,306.4L1730.7,306.4L1732.1,306.4L1733.5,306.5L1734.9,306.5L1736.3,306.5L1737.7,306.5L1739.0,306.6L1740.4,306.6L1741.8,306.6L1743.2,306.6L1744.6,306.7L1745.9,306.7L1747.3,306.7L1748.7,306.8L1750.1,306.8L1751.5,306.8L1752.9,306.9L1754.2,306.9L1755.6,307.0L1757.0,307.0L1758.4,307.0L1759.8,307.1L1761.2,307.1L1762.5,307.1L1763.9,307.2L1765.3,307.2L1766.7,307.3L1768.1,307.3L1769.4,307.4L1770.8,307.4L1772.2,307.4L1773.6,307.5L1775.0,307.5L1776.4,307.6L1777.7,307.6L1779.1,307.7L1780.5,307.7L1781.9,307.8L1783.3,307.8L1784.7,307.9L1786.0,307.9L1787.4,308.0L1788.8,308.0" fill="none" stroke-width="2.3" stroke-linejoin="round"/>
<rect x="1430.3" y="8.0" width="358.4" height="554.2" fill="none" stroke-width="2.6"/>
<path d="M1430.3,285.4 H1788.7" stroke-width="2.6"/>
<text transform="translate(1422.3,50.8) scale(1,1.02)" font-size="33" text-anchor="end" >70</text>
<text transform="translate(1422.3,164.7) scale(1,1.02)" font-size="33" text-anchor="end" >0</text>
<text transform="translate(1422.3,278.2) scale(1,1.02)" font-size="33" text-anchor="end" >-70</text>
<text transform="translate(1422.3,336.6) scale(1,1.02)" font-size="33" text-anchor="end" >70</text>
<text transform="translate(1422.3,433.9) scale(1,1.02)" font-size="33" text-anchor="end" >0</text>
<text transform="translate(1422.3,531.0) scale(1,1.02)" font-size="33" text-anchor="end" >-70</text>
<text transform="translate(1454.7,595.2) scale(1,1.02)" font-size="33" text-anchor="middle" >3.5</text>
<text transform="translate(1617.3,595.2) scale(1,1.02)" font-size="33" text-anchor="middle" >4.5</text>
<text transform="translate(1780.1000000000001,595.2) scale(1,1.02)" font-size="33" text-anchor="middle" >5.5</text>
<path d="M1430.3,40.8h7.5M1430.3,154.7h7.5M1430.3,268.2h7.5M1430.3,326.6h7.5M1430.3,423.9h7.5M1430.3,521h7.5M1455.0,285.4v-7.5M1455.0,562.2v-7.5M1617.6,285.4v-7.5M1617.6,562.2v-7.5M1780.4,285.4v-7.5M1780.4,562.2v-7.5" stroke-width="2.2" fill="none"/>
<text transform="translate(1621,633.1) scale(1,1.03)" font-size="33.3" text-anchor="middle" >Frequency (MHz)</text>
<text transform="translate(935.8,290.3) rotate(-90) scale(1,1.03)" font-size="33.3" text-anchor="middle" >Phase (degree)</text>
<text transform="translate(1219.45,47.4) scale(1,1.0)" font-size="29" font-style="italic">k</text>
<text transform="translate(1242.14,47.4) scale(1,1.0)" font-size="29">=</text>
<text transform="translate(1267.69,47.4) scale(1,1.0)" font-size="29">0.002</text>
<text transform="translate(1219.75,325.2) scale(1,1.0)" font-size="29" font-style="italic">k</text>
<text transform="translate(1242.44,325.2) scale(1,1.0)" font-size="29">=</text>
<text transform="translate(1267.99,325.2) scale(1,1.0)" font-size="29">0.009</text>
<text transform="translate(1669.55,268.7) scale(1,1.0)" font-size="29" font-style="italic">k</text>
<text transform="translate(1692.24,268.7) scale(1,1.0)" font-size="29">=</text>
<text transform="translate(1717.79,268.7) scale(1,1.0)" font-size="29">0.03</text>
<text transform="translate(1669.55,545.3) scale(1,1.0)" font-size="29" font-style="italic">k</text>
<text transform="translate(1692.24,545.3) scale(1,1.0)" font-size="29">=</text>
<text transform="translate(1717.79,545.3) scale(1,1.0)" font-size="29">0.11</text>
<text transform="translate(1187,266) scale(1,1.0)" font-size="28.7" text-anchor="start" >0.005<tspan font-style="italic">f</tspan><tspan font-size="19" dy="6.5">s</tspan></text>
<text transform="translate(1475.5,316) scale(1,1.0)" font-size="28.7" text-anchor="start" >0.01<tspan font-style="italic">f</tspan><tspan font-size="19" dy="6.5">s</tspan></text>
<path d="M1126.0,256.5 L1138.8,256.5" stroke-width="3.1" fill="none"/>
<path d="M1149.8,256.5 L1137.8,262.3 L1137.8,250.7Z" stroke="none"/>
<path d="M1180.5,256.5 L1168.0,256.5" stroke-width="3.1" fill="none"/>
<path d="M1157.0,256.5 L1169.0,250.7 L1169.0,262.3Z" stroke="none"/>
<path d="M1554.0,303.2 L1567.0,303.2" stroke-width="3.1" fill="none"/>
<path d="M1578.0,303.2 L1566.0,309.0 L1566.0,297.4Z" stroke="none"/>
<path d="M1611.5,303.2 L1599.2,303.2" stroke-width="3.1" fill="none"/>
<path d="M1588.2,303.2 L1600.2,297.4 L1600.2,309.0Z" stroke="none"/>
<g fill="none" stroke-width="2.1">
<path d="M1146.5,209.5 h11 l-5.5,9.5Z"/>
<path d="M1144.5,536 h11 l-5.5,-9.5Z"/>
<path d="M1571.9,256.4 l6.5,6.5 l-6.5,6.5 l-6.5,-6.5Z"/>
<rect x="1523" y="536.6" width="10" height="10"/>
</g>
</svg>
</body></html>
